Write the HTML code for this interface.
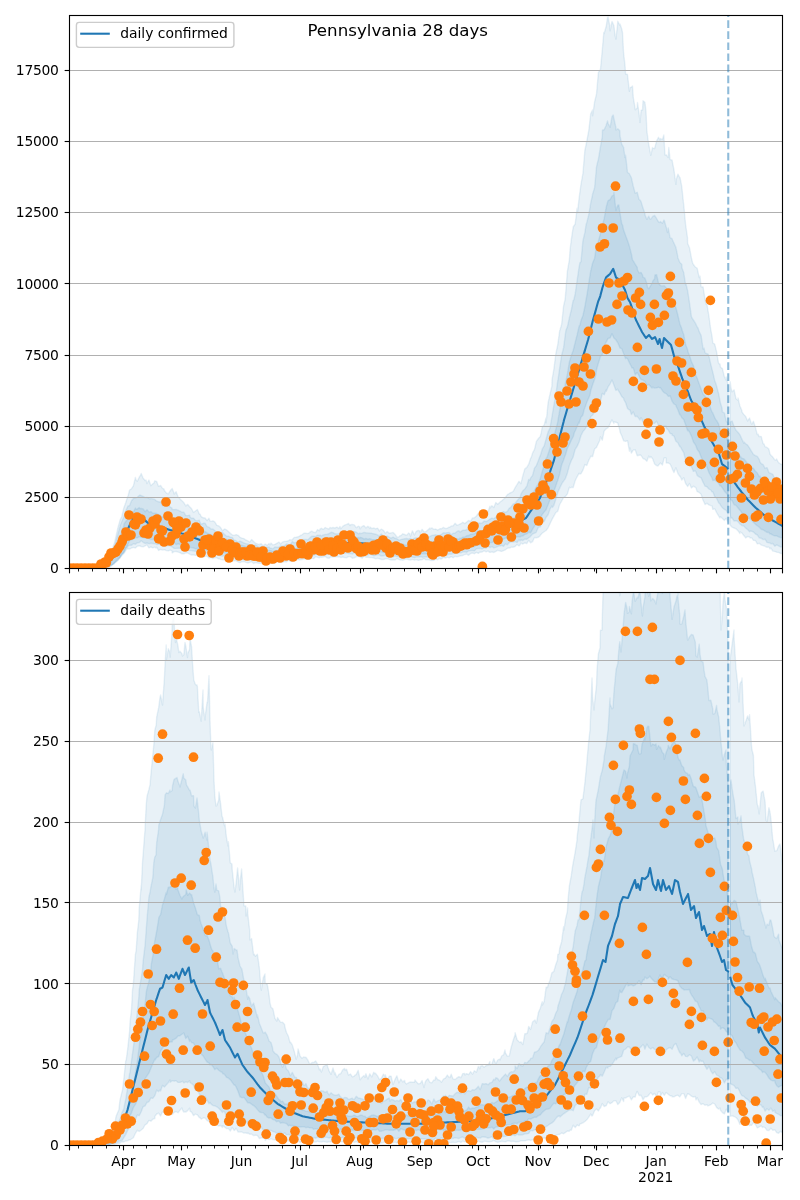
<!DOCTYPE html>
<html><head><meta charset="utf-8"><title>Pennsylvania 28 days</title>
<style>
html,body{margin:0;padding:0;background:#fff;}
svg{display:block;}
text{font-family:"DejaVu Sans","Liberation Sans",sans-serif;fill:#000;}
</style></head><body>
<svg width="800" height="1200" viewBox="0 0 800 1200">
<rect width="800" height="1200" fill="#fff"/>
<defs>
<clipPath id="ct"><rect x="69.5" y="15.5" width="713" height="553"/></clipPath>
<clipPath id="cb"><rect x="69.5" y="592.5" width="713" height="553"/></clipPath>
</defs>

<g clip-path="url(#ct)">
<polygon points="100.0,568.5 100.5,568.3 102.4,567.1 104.4,565.9 106.3,565.2 108.0,564.0 108.2,563.2 110.2,557.9 112.1,549.4 114.0,544.0 114.1,544.4 116.0,536.2 117.9,527.6 119.9,520.8 120.0,520.0 121.8,516.7 123.8,507.9 125.7,502.7 127.6,496.7 128.0,496.0 129.6,490.0 131.5,488.7 133.4,485.8 135.4,477.4 136.0,480.0 137.3,481.3 139.2,477.2 140.6,475.0 141.2,473.5 143.1,478.1 145.1,480.5 146.0,480.0 147.0,483.5 148.9,480.1 150.9,485.7 152.8,483.8 154.0,483.0 154.8,480.8 156.7,481.4 158.6,486.4 160.6,485.4 162.5,488.4 164.0,489.0 164.4,490.5 166.4,493.0 168.3,493.9 170.2,490.8 172.2,488.4 174.0,493.0 174.1,494.0 176.1,491.8 178.0,496.6 179.9,498.8 180.0,499.0 181.9,500.7 183.8,502.6 185.8,505.9 187.7,504.4 189.6,506.8 190.0,507.0 191.6,508.7 193.5,512.4 195.4,511.0 197.4,509.6 199.3,514.1 200.0,514.0 201.2,516.6 203.2,517.8 205.1,518.0 207.1,520.6 209.0,518.2 210.0,521.0 210.9,521.4 212.9,520.8 214.8,521.9 216.8,525.3 218.7,525.8 220.0,527.0 220.6,527.6 222.6,530.8 224.5,528.9 226.4,529.8 228.4,531.5 230.0,533.0 230.3,533.4 232.2,534.8 234.2,535.4 236.1,534.6 238.1,535.3 240.0,537.3 241.9,538.1 243.9,538.6 245.8,540.0 247.8,540.8 249.7,542.1 250.0,541.5 251.6,539.6 253.6,541.5 255.5,543.2 257.4,543.8 259.4,544.7 260.0,544.0 261.3,543.7 263.2,545.7 265.2,544.0 267.1,545.3 269.1,543.5 270.0,545.0 271.0,543.1 272.9,544.9 274.9,544.3 276.8,543.3 278.8,542.2 280.0,543.0 280.7,544.0 282.6,541.9 284.6,541.4 286.5,541.2 288.4,540.8 290.0,539.6 290.4,539.9 292.3,539.7 294.2,537.4 296.2,537.2 298.1,536.8 300.0,536.0 300.1,535.4 302.0,534.8 303.9,533.3 305.9,533.3 307.8,533.6 309.8,532.5 310.0,532.0 311.7,531.2 313.6,532.2 315.6,532.6 317.5,529.6 319.4,530.8 320.0,529.0 321.4,528.3 323.3,529.4 325.2,527.5 327.2,528.5 329.1,529.0 330.0,527.4 331.1,528.0 333.0,527.5 334.9,528.0 336.9,527.1 338.8,528.5 340.0,526.4 340.8,528.7 342.7,526.4 344.6,525.1 346.6,524.4 348.5,523.5 350.0,525.6 350.4,524.7 352.4,524.4 354.3,524.9 356.2,527.7 358.2,526.2 360.0,527.0 360.1,528.9 362.1,526.4 364.0,525.6 365.9,527.9 367.9,526.2 369.8,528.4 370.0,527.0 371.8,528.6 373.7,527.9 375.6,528.8 377.6,528.1 379.5,531.0 380.0,530.0 381.4,529.2 383.4,530.3 385.3,533.2 387.2,531.4 389.2,533.3 390.0,533.0 391.1,532.9 393.1,532.4 395.0,534.2 396.9,537.0 398.9,536.9 400.0,535.6 400.8,535.8 402.8,533.8 404.7,534.5 406.6,535.4 408.6,533.0 410.0,534.0 410.5,536.3 412.4,530.8 414.4,535.0 416.3,531.3 418.2,530.4 420.0,531.0 420.2,533.0 422.1,529.3 424.1,532.0 426.0,531.5 427.9,529.9 429.9,528.0 430.0,529.0 431.8,527.9 433.8,529.4 435.7,529.0 437.6,530.1 439.6,529.0 440.0,528.6 441.5,528.7 443.4,527.4 445.4,528.5 447.3,528.2 449.2,527.1 450.0,527.0 451.2,525.9 453.1,525.8 455.1,523.2 457.0,525.2 458.9,524.6 460.0,524.0 460.9,523.7 462.8,522.2 464.8,523.6 466.7,522.1 468.6,520.4 470.0,521.0 470.6,521.3 472.5,517.9 474.4,517.8 476.4,516.0 478.3,513.5 480.0,514.0 480.2,514.4 482.2,513.5 484.1,511.1 486.1,510.6 488.0,512.1 489.9,506.1 490.0,508.0 491.9,505.7 493.8,507.6 495.8,502.5 497.7,504.3 499.6,502.4 500.0,502.0 501.6,500.9 503.5,499.2 505.4,497.4 507.4,494.6 509.3,493.5 510.0,493.0 511.2,492.5 513.2,491.4 515.1,487.7 517.1,484.4 519.0,481.3 520.0,482.5 520.9,483.7 522.9,475.4 524.8,468.9 526.8,467.4 528.7,464.2 530.6,458.3 531.2,457.5 532.6,452.9 534.5,449.4 536.4,441.4 538.4,438.5 540.3,436.5 541.2,432.5 542.2,427.2 544.2,424.9 546.0,418.0 546.1,422.7 548.1,402.6 550.0,394.2 551.9,386.2 552.0,380.0 553.9,368.9 555.8,354.0 557.8,344.3 559.7,330.5 560.0,330.0 561.6,324.5 563.6,305.8 565.0,300.0 565.5,295.1 567.4,271.2 569.4,259.6 570.0,250.0 571.3,239.7 573.2,227.0 575.2,224.0 577.1,208.1 577.5,212.5 579.1,198.2 581.0,184.0 582.9,173.5 584.9,149.9 585.0,150.0 586.8,141.0 588.8,130.3 590.7,113.8 592.5,110.0 592.6,115.8 594.6,101.8 596.5,93.9 598.4,72.4 600.0,70.0 600.4,70.1 602.3,49.7 603.8,32.5 604.2,33.3 606.2,26.3 607.5,17.5 608.1,16.9 610.0,27.0 610.1,30.9 612.0,21.4 613.9,25.5 615.0,35.0 615.9,39.1 617.5,25.0 617.8,21.3 619.8,25.2 620.0,24.0 621.7,28.7 622.5,32.5 623.6,53.2 625.0,65.0 625.6,74.0 627.5,74.5 629.4,91.3 630.0,87.5 631.4,87.3 632.5,86.0 633.3,97.6 635.0,107.5 635.2,109.8 637.2,108.0 637.5,102.5 639.1,113.7 640.0,122.5 641.1,110.1 642.5,110.0 643.0,100.7 644.9,102.2 646.0,111.0 646.9,131.2 648.8,145.0 648.8,144.7 650.8,155.4 652.5,147.5 652.7,148.1 654.6,148.6 656.6,140.9 658.5,137.3 660.0,140.0 660.4,138.5 662.4,139.5 663.8,135.0 664.3,143.6 665.0,155.0 666.2,154.8 668.2,157.6 668.8,147.5 670.1,159.5 672.1,160.2 672.5,162.5 674.0,170.1 675.9,184.4 676.0,180.0 677.9,174.2 679.8,177.7 680.0,177.5 681.8,186.7 683.7,204.7 683.8,205.0 685.6,224.7 687.5,237.5 687.6,243.3 689.5,247.7 691.4,257.8 692.5,262.5 693.4,264.5 695.3,267.0 697.2,268.3 699.2,277.6 700.0,276.0 701.1,286.7 703.1,287.0 705.0,299.2 706.0,304.0 706.9,304.0 708.9,316.0 710.8,329.8 712.0,336.0 712.8,343.0 714.7,344.1 716.6,351.8 718.6,363.6 720.0,364.0 720.5,367.3 722.4,368.6 724.4,376.8 726.0,380.0 726.3,376.9 728.2,385.9 728.2,522.9 727.0,520.0 726.3,518.2 724.4,520.4 722.4,518.6 720.5,516.8 720.0,518.0 718.6,515.9 716.6,512.6 714.7,508.8 712.8,509.4 712.0,506.0 710.8,505.6 708.9,504.9 706.9,503.2 705.0,504.6 704.0,502.0 703.1,500.4 701.1,494.2 699.2,492.4 697.2,491.7 696.0,488.0 695.3,487.3 693.4,486.2 691.4,487.9 689.5,483.5 688.0,486.0 687.6,486.4 685.6,483.5 683.7,477.8 681.8,480.1 680.0,476.0 679.8,476.3 677.9,473.6 675.9,467.8 674.0,472.6 672.1,468.8 672.0,468.0 670.1,464.0 668.2,462.9 666.2,463.0 666.0,458.0 664.3,457.8 662.4,465.0 660.4,463.0 658.5,465.2 658.0,466.0 656.6,465.6 654.6,464.0 652.7,458.9 650.8,456.5 650.0,458.0 648.8,456.0 646.9,461.3 644.9,459.3 643.0,458.5 641.1,455.5 640.0,455.0 639.1,455.3 637.2,455.7 635.2,449.8 633.3,450.1 631.4,453.2 630.0,448.0 629.4,451.2 627.5,440.7 625.6,441.4 623.6,440.8 621.7,435.8 620.0,432.0 619.8,430.1 617.8,423.2 615.9,422.2 614.0,422.0 613.9,423.5 612.0,419.9 610.1,423.5 610.0,424.0 608.1,427.7 606.2,428.8 604.2,430.9 602.3,440.2 600.4,436.8 600.0,440.0 598.4,443.3 596.5,447.4 594.6,449.0 592.6,456.6 590.7,456.2 590.0,458.0 588.8,460.2 586.8,465.5 584.9,464.5 582.9,470.2 581.0,473.7 580.0,474.0 579.1,473.2 577.1,476.8 575.2,480.8 573.2,487.5 571.3,487.3 570.0,488.0 569.4,487.2 567.4,493.9 565.5,496.4 563.6,497.5 561.6,501.3 560.0,504.0 559.7,504.5 557.8,511.2 555.8,512.6 553.9,516.1 551.9,519.7 550.0,523.7 548.1,527.8 546.1,530.5 544.2,531.8 542.2,533.2 540.3,535.2 540.0,536.0 538.4,537.3 536.4,537.7 534.5,537.5 532.6,541.6 530.6,542.8 530.0,542.0 528.7,540.4 526.8,543.6 524.8,542.9 522.9,544.0 520.9,543.1 520.0,545.0 519.0,545.9 517.1,544.6 515.1,546.5 513.2,547.2 511.2,547.1 510.0,548.0 509.3,547.9 507.4,548.3 505.4,549.8 503.5,550.7 501.6,551.4 500.0,551.0 499.6,550.8 497.7,550.3 495.8,551.4 493.8,552.5 491.9,551.9 489.9,552.4 488.0,551.1 486.1,551.8 484.1,550.8 482.2,552.0 480.2,552.2 480.0,552.0 478.3,553.4 476.4,552.4 474.4,553.7 472.5,553.0 470.6,553.5 468.6,555.3 466.7,554.1 464.8,554.5 462.8,555.5 460.9,555.7 460.0,556.0 458.9,556.3 457.0,556.8 455.1,556.3 453.1,557.7 451.2,556.7 449.2,557.8 447.3,557.2 445.4,558.0 443.4,557.4 441.5,559.0 440.0,559.0 439.6,558.3 437.6,559.8 435.7,558.9 433.8,560.4 431.8,560.5 429.9,560.2 427.9,559.6 426.0,559.9 424.1,558.7 422.1,559.7 420.2,559.7 420.0,560.0 418.2,560.4 416.3,559.6 414.4,560.2 412.4,559.4 410.5,560.0 408.6,559.7 406.6,559.0 404.7,559.3 402.8,560.3 400.8,559.8 400.0,560.0 398.9,559.4 396.9,558.7 395.0,560.0 393.1,559.7 391.1,560.0 389.2,559.4 387.2,558.6 385.3,558.9 383.4,559.5 381.4,559.5 380.0,559.0 379.5,558.9 377.6,558.3 375.6,558.8 373.7,558.0 371.8,557.6 369.8,557.6 367.9,557.2 365.9,557.3 364.0,555.9 362.1,558.2 360.1,557.1 360.0,557.0 358.2,556.3 356.2,556.8 354.3,557.8 352.4,558.3 350.4,556.6 348.5,556.6 346.6,557.8 344.6,557.6 342.7,557.0 340.8,557.6 340.0,557.0 338.8,557.1 336.9,556.7 334.9,556.9 333.0,557.1 331.1,556.8 329.1,558.3 327.2,558.0 325.2,556.4 323.3,557.1 321.4,557.3 320.0,557.0 319.4,557.8 317.5,557.3 315.6,556.8 313.6,558.7 311.7,558.1 309.8,559.3 307.8,559.4 305.9,559.0 303.9,559.1 302.0,559.6 300.1,559.8 300.0,560.0 298.1,559.4 296.2,559.6 294.2,560.4 292.3,561.2 290.4,561.4 288.4,560.2 286.5,562.0 284.6,561.7 282.6,562.3 280.7,562.6 280.0,562.0 278.8,562.2 276.8,561.4 274.9,563.2 272.9,563.0 271.0,563.3 269.1,563.0 267.1,562.6 265.2,562.1 263.2,562.7 261.3,563.5 260.0,563.0 259.4,563.4 257.4,563.0 255.5,562.5 253.6,563.6 251.6,561.8 249.7,562.4 247.8,563.0 245.8,562.4 243.9,561.6 241.9,561.7 240.0,562.7 238.1,562.0 236.1,560.9 234.2,560.7 232.2,561.2 230.3,560.5 228.4,560.4 226.4,560.0 224.5,560.0 222.6,559.8 220.6,559.4 220.0,559.0 218.7,558.9 216.8,557.9 214.8,557.5 212.9,558.6 210.9,557.4 209.0,558.1 207.1,556.3 205.1,556.2 203.2,557.3 201.2,556.1 200.0,556.0 199.3,555.8 197.4,555.1 195.4,555.4 193.5,554.8 191.6,555.1 189.6,554.1 187.7,553.0 185.8,552.9 183.8,553.8 181.9,553.8 179.9,552.7 178.0,552.1 176.1,551.5 174.1,551.6 172.2,552.9 172.0,551.0 170.2,550.1 168.3,550.9 166.4,550.6 164.4,549.7 162.5,550.1 160.6,549.4 158.6,550.5 156.7,547.2 156.0,548.0 154.8,547.1 152.8,547.9 150.9,546.9 148.9,547.9 147.0,544.8 145.1,545.9 143.1,546.8 141.2,546.5 140.0,546.0 139.2,545.9 137.3,546.2 135.4,548.1 133.4,547.4 131.5,548.0 129.6,549.1 127.6,548.7 126.0,550.0 125.7,550.7 123.8,553.5 121.8,555.6 120.0,558.0 119.9,558.3 117.9,560.3 116.0,561.6 114.1,562.6 112.1,564.9 110.2,566.1 110.0,566.0 108.2,566.3 106.3,567.1 104.4,567.5 102.4,567.8 100.5,568.4 100.0,568.5" fill="#1f77b4" fill-opacity="0.1" stroke="#1f77b4" stroke-opacity="0.1" stroke-width="1.39" stroke-linejoin="round"/>
<polygon points="104.0,568.5 104.4,567.9 106.3,565.2 108.2,562.0 110.2,558.6 112.0,556.0 112.1,555.0 114.1,548.1 116.0,541.3 117.9,534.0 119.9,526.9 120.0,526.0 121.8,521.5 123.8,517.0 125.7,510.9 127.6,506.8 128.0,506.0 129.6,505.6 131.5,500.8 133.4,498.5 134.0,498.0 135.4,497.8 137.3,497.3 139.2,495.6 140.0,495.0 141.2,495.6 143.1,496.4 145.1,497.6 147.0,497.4 148.9,498.3 150.0,499.0 150.9,498.4 152.8,498.9 154.8,499.5 156.7,501.2 158.6,501.8 160.0,502.0 160.6,501.4 162.5,505.7 164.4,504.7 166.4,505.6 168.3,505.2 170.2,507.1 172.0,508.0 172.2,509.6 174.1,509.6 176.1,509.4 178.0,510.2 179.9,511.2 180.0,511.0 181.9,512.3 183.8,512.2 185.8,515.6 187.7,515.6 189.6,515.1 190.0,517.0 191.6,518.2 193.5,518.1 195.4,520.5 197.4,520.7 199.3,520.2 200.0,522.0 201.2,524.4 203.2,523.3 205.1,523.3 207.1,526.7 209.0,527.2 210.0,528.0 210.9,528.9 212.9,529.0 214.8,530.5 216.8,533.0 218.7,532.1 220.0,533.0 220.6,532.5 222.6,532.4 224.5,534.4 226.4,536.0 228.4,536.2 230.3,537.2 232.2,537.4 234.2,540.1 236.1,540.7 238.1,542.2 240.0,541.1 241.9,542.0 243.9,543.0 245.8,543.6 247.8,544.0 249.7,544.8 251.6,544.9 253.6,545.6 255.5,544.8 257.4,546.1 259.4,547.4 260.0,547.0 261.3,546.4 263.2,547.0 265.2,547.3 267.1,547.3 269.1,546.9 270.0,548.0 271.0,548.3 272.9,548.7 274.9,546.9 276.8,547.2 278.8,547.1 280.0,546.5 280.7,545.9 282.6,545.9 284.6,545.6 286.5,543.9 288.4,544.9 290.4,544.5 292.3,541.6 294.2,542.8 296.2,542.4 298.1,542.0 300.0,541.0 300.1,540.4 302.0,539.8 303.9,539.4 305.9,539.4 307.8,539.8 309.8,537.9 311.7,536.3 313.6,536.1 315.6,536.5 317.5,535.1 319.4,535.5 320.0,535.0 321.4,535.9 323.3,534.9 325.2,534.4 327.2,534.4 329.1,533.5 331.1,532.3 333.0,532.6 334.9,533.8 336.9,533.9 338.8,533.7 340.0,533.0 340.8,533.0 342.7,532.6 344.6,532.8 346.6,532.8 348.5,532.9 350.4,533.1 352.4,533.6 354.3,531.6 356.2,532.1 358.2,533.8 360.0,533.0 360.1,533.5 362.1,533.2 364.0,532.4 365.9,532.8 367.9,532.9 369.8,533.1 371.8,533.3 373.7,533.8 375.6,534.2 377.6,534.9 379.5,536.4 380.0,535.0 381.4,533.9 383.4,536.3 385.3,536.8 387.2,536.0 389.2,537.2 391.1,538.2 393.1,537.1 395.0,538.3 396.9,538.7 398.9,540.1 400.0,540.0 400.8,539.6 402.8,539.1 404.7,538.7 406.6,538.5 408.6,539.0 410.5,538.4 412.4,539.6 414.4,538.1 416.3,537.8 418.2,538.5 420.0,538.0 420.2,538.0 422.1,538.6 424.1,537.1 426.0,536.9 427.9,537.6 429.9,536.5 431.8,535.4 433.8,535.1 435.7,534.8 437.6,535.5 439.6,535.3 440.0,535.0 441.5,534.3 443.4,532.7 445.4,533.0 447.3,532.6 449.2,532.5 451.2,534.7 453.1,533.2 455.1,533.1 457.0,531.4 458.9,530.7 460.0,532.0 460.9,531.6 462.8,530.3 464.8,530.3 466.7,529.5 468.6,528.7 470.6,526.5 472.5,527.2 474.4,524.5 476.4,524.5 478.3,523.1 480.0,523.0 480.2,523.5 482.2,522.9 484.1,520.9 486.1,521.6 488.0,520.5 489.9,519.1 491.9,518.1 493.8,518.7 495.8,517.1 497.7,515.3 499.6,513.8 500.0,515.0 501.6,512.6 503.5,511.6 505.4,512.3 507.4,511.4 509.3,508.0 510.0,508.0 511.2,506.6 513.2,503.9 515.1,503.3 517.1,500.8 519.0,498.4 520.0,498.0 520.9,494.2 522.9,490.8 524.8,489.0 526.8,486.1 528.7,479.5 530.0,480.0 530.6,477.9 532.6,475.3 534.5,468.1 536.4,465.6 538.4,460.6 540.0,456.0 540.3,455.8 542.2,449.2 544.2,445.8 546.1,439.1 548.1,431.9 550.0,428.1 551.9,417.0 553.9,405.2 555.8,395.2 557.8,380.3 558.0,380.0 559.7,367.9 561.6,355.5 563.6,347.7 565.5,333.0 566.0,330.0 567.4,326.9 569.4,317.7 571.3,310.0 573.2,300.3 573.8,300.0 575.2,293.9 577.1,280.7 579.1,266.9 580.0,262.5 581.0,261.7 582.9,240.9 584.9,232.4 586.0,225.0 586.8,222.4 588.8,214.5 590.7,203.2 592.5,195.0 592.6,194.1 594.6,187.7 596.5,167.1 597.5,162.5 598.4,159.2 600.4,147.1 602.3,136.6 602.5,130.0 604.2,129.8 606.2,125.2 607.5,121.0 608.1,123.5 610.0,127.0 610.1,127.3 612.0,116.7 613.2,115.0 613.9,118.4 615.9,127.5 616.0,130.0 617.8,128.7 619.8,130.7 620.0,136.0 621.7,144.1 623.6,147.4 625.0,157.5 625.6,155.1 627.5,172.4 629.4,173.7 630.0,175.0 631.4,177.8 633.3,186.4 635.0,192.5 635.2,193.2 637.2,192.3 639.1,199.5 640.0,200.0 641.1,201.7 643.0,208.1 644.9,213.6 645.0,215.0 646.9,219.4 648.8,216.2 650.0,219.0 650.8,219.2 652.7,216.4 654.6,215.5 656.0,217.5 656.6,218.6 658.5,221.8 660.0,222.5 660.4,221.4 662.4,223.2 664.0,220.0 664.3,220.5 666.2,227.1 667.5,232.5 668.2,227.9 670.1,237.7 672.1,238.7 672.5,240.0 674.0,243.3 675.9,247.4 677.5,255.0 677.9,257.7 679.8,262.4 681.8,264.2 682.0,268.0 683.7,272.5 685.6,284.8 686.0,284.0 687.6,290.5 689.5,302.8 691.4,316.6 692.0,318.0 693.4,320.0 695.3,322.9 697.2,327.0 698.0,328.0 699.2,331.6 701.1,335.4 703.1,349.1 704.0,348.0 705.0,352.7 706.9,353.8 708.0,354.0 708.9,356.2 710.8,364.3 712.8,372.3 714.7,380.4 716.0,384.0 716.6,386.1 718.6,393.6 720.5,403.3 722.0,408.0 722.4,411.9 724.4,413.0 726.0,420.0 726.3,421.2 728.2,423.2 728.2,513.7 727.0,512.0 726.3,510.5 724.4,509.4 722.4,507.8 720.5,505.2 720.0,504.0 718.6,502.7 716.6,498.2 714.7,496.5 712.8,491.8 712.0,492.0 710.8,490.0 708.9,489.0 706.9,486.7 705.0,486.2 704.0,484.0 703.1,482.4 701.1,477.8 699.2,476.9 697.2,475.6 696.0,472.0 695.3,470.8 693.4,471.4 691.4,466.7 689.5,465.4 688.0,462.0 687.6,461.4 685.6,460.3 683.7,452.6 681.8,449.4 680.0,446.0 679.8,446.7 677.9,442.7 675.9,441.3 674.0,436.1 672.1,435.1 672.0,434.0 670.1,433.4 668.2,430.0 666.2,428.0 666.0,426.0 664.3,425.6 662.4,427.9 660.4,426.0 660.0,425.0 658.5,425.2 656.6,421.2 654.6,423.4 652.7,423.1 650.8,425.7 650.0,424.0 648.8,422.1 646.9,422.3 644.9,423.1 643.0,422.2 641.1,417.6 640.0,420.0 639.1,418.8 637.2,416.3 635.2,416.6 633.3,412.0 631.4,414.5 630.0,410.0 629.4,410.1 627.5,408.4 625.6,402.7 624.0,400.0 623.6,398.3 621.7,396.4 619.8,392.9 618.0,390.0 617.8,389.1 615.9,390.4 613.9,385.0 612.0,380.0 610.1,383.8 608.1,386.8 606.2,391.4 606.0,390.0 604.2,394.7 602.3,393.4 600.4,401.6 600.0,402.0 598.4,403.4 596.5,408.0 596.0,412.0 594.6,412.0 592.6,415.0 590.7,416.8 590.0,420.0 588.8,421.9 586.8,426.0 584.9,429.4 582.9,431.6 582.5,432.5 581.0,435.5 579.1,442.0 577.1,446.4 575.2,449.3 573.2,456.7 573.0,457.5 571.3,460.4 569.4,465.5 567.4,472.9 565.5,478.3 563.6,481.1 562.5,482.5 561.6,484.3 559.7,488.1 557.8,492.3 555.8,499.4 553.9,505.3 552.5,507.5 551.9,506.0 550.0,509.1 548.1,514.7 546.1,517.2 544.2,521.5 544.0,521.0 542.2,522.4 540.3,526.8 538.4,527.3 536.4,531.8 536.0,532.5 534.5,533.2 532.6,534.0 530.6,536.3 530.0,537.0 528.7,537.7 526.8,539.2 524.8,539.1 522.9,540.5 520.9,539.9 520.0,541.0 519.0,539.6 517.1,542.6 515.1,541.5 513.2,542.1 511.2,541.9 509.3,542.5 507.4,544.8 505.4,543.9 503.5,546.4 501.6,545.4 500.0,546.0 499.6,545.6 497.7,546.6 495.8,547.3 493.8,547.8 491.9,546.6 489.9,547.6 488.0,546.1 486.1,548.3 484.1,547.9 482.2,549.0 480.2,548.3 480.0,548.5 478.3,548.4 476.4,548.7 474.4,550.9 472.5,550.4 470.6,550.6 468.6,551.0 466.7,552.2 464.8,551.9 462.8,552.0 460.9,553.0 460.0,552.5 458.9,552.8 457.0,553.3 455.1,553.2 453.1,553.6 451.2,554.3 449.2,554.0 447.3,554.9 445.4,554.9 443.4,554.7 441.5,554.9 440.0,555.5 439.6,554.9 437.6,556.3 435.7,556.6 433.8,555.9 431.8,555.9 429.9,556.3 427.9,557.0 426.0,556.7 424.1,557.1 422.1,557.2 420.2,556.5 420.0,557.0 418.2,557.0 416.3,557.1 414.4,557.7 412.4,557.2 410.5,556.5 408.6,557.5 406.6,557.2 404.7,557.0 402.8,556.3 400.8,556.5 400.0,557.0 398.9,556.7 396.9,556.5 395.0,556.0 393.1,557.0 391.1,556.8 389.2,556.4 387.2,556.4 385.3,555.1 383.4,555.8 381.4,556.0 380.0,555.5 379.5,554.7 377.6,554.6 375.6,555.4 373.7,555.7 371.8,554.9 369.8,553.7 367.9,555.2 365.9,554.2 364.0,554.8 362.1,553.3 360.1,553.3 360.0,553.5 358.2,553.4 356.2,554.3 354.3,552.7 352.4,554.1 350.4,553.6 348.5,553.6 346.6,552.9 344.6,553.3 342.7,553.2 340.8,553.7 340.0,553.5 338.8,553.2 336.9,553.6 334.9,553.7 333.0,554.0 331.1,554.3 329.1,554.0 327.2,553.8 325.2,554.8 323.3,554.5 321.4,553.3 320.0,554.5 319.4,555.1 317.5,554.3 315.6,554.4 313.6,555.6 311.7,555.2 309.8,557.1 307.8,557.3 305.9,557.1 303.9,558.1 302.0,557.2 300.1,558.1 300.0,558.0 298.1,558.8 296.2,559.2 294.2,558.4 292.3,558.6 290.4,558.5 288.4,558.6 286.5,559.2 284.6,559.1 282.6,560.3 280.7,559.6 280.0,560.0 278.8,560.2 276.8,560.8 274.9,559.9 272.9,560.3 271.0,560.9 269.1,560.0 267.1,560.5 265.2,561.0 263.2,560.1 261.3,560.3 260.0,560.5 259.4,560.2 257.4,560.2 255.5,559.5 253.6,559.7 251.6,560.0 249.7,560.0 247.8,559.7 245.8,559.1 243.9,560.0 241.9,558.8 240.0,558.8 238.1,558.7 236.1,558.5 234.2,557.6 232.2,556.8 230.3,557.5 228.4,557.2 226.4,556.8 224.5,555.5 222.6,556.3 220.6,555.7 220.0,555.5 218.7,555.2 216.8,554.4 214.8,554.2 212.9,553.6 210.9,554.8 209.0,553.7 207.1,552.6 205.1,553.2 203.2,553.3 201.2,552.1 200.0,552.5 199.3,551.9 197.4,551.6 195.4,551.2 193.5,551.1 191.6,550.6 189.6,550.6 187.7,549.8 185.8,550.5 183.8,549.5 181.9,548.3 179.9,548.2 178.0,548.2 176.1,548.4 174.1,548.4 172.2,547.0 172.0,547.0 170.2,546.0 168.3,545.5 166.4,545.9 164.4,545.6 162.5,545.6 160.6,544.1 158.6,544.2 156.7,544.5 156.0,544.0 154.8,543.8 152.8,543.5 150.9,543.3 148.9,543.7 147.0,543.0 145.1,543.4 143.1,542.3 141.2,540.8 140.0,542.0 139.2,542.6 137.3,542.8 135.4,544.3 133.4,543.7 131.5,545.3 129.6,545.3 128.0,546.0 127.6,547.3 125.7,548.6 123.8,552.6 122.0,554.0 121.8,553.6 119.9,557.7 117.9,558.7 116.0,560.7 114.1,563.8 114.0,564.0 112.1,564.7 110.2,565.2 108.2,566.9 106.3,567.2 104.4,568.4 104.0,568.5" fill="#1f77b4" fill-opacity="0.1" stroke="#1f77b4" stroke-opacity="0.1" stroke-width="1.39" stroke-linejoin="round"/>
<polygon points="108.0,568.5 108.2,568.0 110.2,563.9 112.1,559.7 114.1,556.1 116.0,552.0 117.9,545.5 119.9,538.3 121.8,531.1 123.8,526.2 124.0,524.0 125.7,521.5 127.6,519.4 129.6,514.5 130.0,514.0 131.5,512.5 133.4,512.1 135.4,508.0 136.0,509.0 137.3,509.1 139.2,507.6 140.0,508.6 141.2,508.4 143.1,508.9 145.1,511.7 147.0,509.8 148.9,511.9 150.0,512.0 150.9,511.6 152.8,513.3 154.8,513.2 156.7,513.5 158.6,514.6 160.0,515.0 160.6,516.3 162.5,516.8 164.4,517.6 166.4,517.4 168.3,517.1 170.2,519.1 172.0,520.0 172.2,520.1 174.1,520.3 176.1,521.3 178.0,523.2 179.9,522.7 181.9,524.1 183.8,524.4 184.0,525.0 185.8,526.6 187.7,526.0 189.6,528.2 191.6,527.6 193.5,528.4 195.4,529.2 197.4,529.8 199.3,530.6 200.0,531.0 201.2,531.7 203.2,532.1 205.1,531.6 207.1,532.9 209.0,533.8 210.9,534.6 212.9,535.9 214.8,536.1 216.8,537.0 218.7,537.1 220.0,538.0 220.6,539.3 222.6,539.2 224.5,539.2 226.4,539.2 228.4,540.4 230.3,542.1 232.2,542.4 234.2,543.4 236.1,543.7 238.1,544.7 240.0,545.7 241.9,545.3 243.9,545.9 245.8,546.5 247.8,546.8 249.7,546.6 251.6,547.9 253.6,548.5 255.5,548.5 257.4,550.0 259.4,549.6 260.0,550.0 261.3,550.4 263.2,550.2 265.2,549.7 267.1,550.8 269.1,550.2 271.0,550.6 272.9,551.4 274.9,550.6 275.0,551.0 276.8,551.4 278.8,550.9 280.7,550.7 282.6,550.0 284.6,550.3 286.5,549.3 288.4,549.6 290.0,549.5 290.4,549.7 292.3,548.7 294.2,549.0 296.2,548.5 298.1,547.4 300.1,546.2 302.0,545.8 303.9,545.3 305.0,545.0 305.9,545.7 307.8,544.4 309.8,544.5 311.7,542.8 313.6,542.7 315.6,542.2 317.5,541.5 319.4,541.0 320.0,541.0 321.4,540.6 323.3,540.8 325.2,540.9 327.2,539.8 329.1,538.9 331.1,538.8 333.0,539.2 334.9,538.5 336.9,538.7 338.8,538.0 340.0,538.0 340.8,537.9 342.7,537.0 344.6,537.6 346.6,537.3 348.5,538.4 350.4,538.3 352.4,538.0 354.3,537.7 356.2,538.1 358.2,537.5 360.0,538.0 360.1,537.3 362.1,537.8 364.0,539.1 365.9,538.5 367.9,539.1 369.8,538.7 371.8,539.7 373.7,539.6 375.6,539.7 377.6,541.2 379.5,541.3 380.0,540.5 381.4,540.9 383.4,540.8 385.3,541.6 387.2,542.7 389.2,542.4 391.1,543.3 393.1,543.5 395.0,544.1 396.9,544.2 398.9,545.4 400.0,545.0 400.8,545.9 402.8,543.9 404.7,545.1 406.6,544.9 408.6,544.9 410.5,544.5 412.4,544.3 414.4,543.6 416.3,543.7 418.2,543.5 420.0,543.5 420.2,543.5 422.1,542.7 424.1,543.0 426.0,542.6 427.9,543.4 429.9,542.0 431.8,541.9 433.8,541.2 435.7,542.6 437.6,541.3 439.6,541.1 440.0,541.0 441.5,541.1 443.4,540.4 445.4,539.9 447.3,539.9 449.2,539.8 451.2,539.4 453.1,539.2 455.1,538.7 457.0,538.8 458.9,539.2 460.0,538.0 460.9,538.6 462.8,537.1 464.8,537.0 466.7,535.8 468.6,535.5 470.6,534.3 472.5,534.1 474.4,533.7 476.4,532.1 478.3,530.9 480.0,531.0 480.2,530.9 482.2,530.9 484.1,529.8 486.1,528.9 488.0,529.0 489.9,527.5 491.9,527.5 493.8,526.7 495.8,526.6 497.7,526.0 499.6,525.0 500.0,525.0 501.6,524.0 503.5,523.9 505.4,522.8 507.4,521.4 509.3,521.5 510.0,520.0 511.2,519.1 513.2,518.1 515.1,517.4 517.1,515.3 519.0,514.8 520.0,514.0 520.9,512.8 522.9,511.9 524.8,508.3 526.0,507.5 526.8,506.4 528.7,502.4 530.6,498.6 532.6,494.5 534.5,490.3 536.4,486.7 538.4,483.9 538.8,482.5 540.3,478.5 542.2,471.5 544.2,465.1 546.1,458.3 546.9,457.5 548.1,453.9 550.0,448.2 551.9,442.4 553.9,435.9 555.0,432.5 555.8,429.5 557.8,421.8 558.0,420.0 559.7,410.4 561.6,400.1 562.0,400.0 563.6,393.5 565.5,382.9 567.4,373.9 569.4,361.8 570.0,360.0 571.3,355.4 573.2,350.5 575.2,342.4 577.1,334.9 579.1,326.2 580.0,325.0 581.0,320.4 582.9,315.8 584.9,306.5 586.0,300.0 586.8,296.0 588.8,282.9 590.7,271.0 591.0,270.0 592.6,263.0 594.6,258.2 596.5,246.0 597.5,245.0 598.4,241.1 600.4,233.9 602.3,225.9 602.5,225.0 604.2,218.4 606.2,207.2 607.5,202.5 608.1,200.6 610.1,199.6 612.0,196.0 613.8,195.0 613.9,192.4 615.9,210.5 616.0,210.0 617.8,205.2 618.8,205.0 619.8,211.8 621.7,223.6 622.5,225.0 623.6,230.1 625.6,235.6 627.5,240.4 629.4,246.2 631.4,253.9 632.5,260.0 633.3,260.9 635.2,264.2 637.2,267.3 637.5,270.0 639.1,272.9 641.1,272.5 642.5,275.0 643.0,277.2 644.9,278.2 646.9,283.5 647.5,287.5 648.8,288.7 650.8,285.3 652.5,282.5 652.7,281.2 654.6,278.8 655.0,275.0 656.6,274.7 658.5,283.2 660.0,285.0 660.4,285.6 662.4,285.9 664.3,285.8 666.2,287.9 668.0,290.0 668.2,293.5 670.1,294.1 672.1,298.0 674.0,304.1 675.9,307.6 676.0,308.0 677.9,315.3 679.8,323.7 681.8,328.7 682.0,330.0 683.7,334.4 685.6,344.6 687.6,349.8 688.0,352.0 689.5,355.6 691.4,361.5 693.4,365.8 694.0,368.0 695.3,374.1 697.2,378.2 699.2,384.1 700.0,386.0 701.1,389.2 703.1,394.2 705.0,396.0 706.0,398.0 706.9,400.3 708.9,402.2 710.8,409.1 712.0,412.0 712.8,412.9 714.7,417.6 716.0,420.0 716.6,420.4 718.6,424.1 720.5,431.3 722.0,432.0 722.4,433.1 724.4,436.5 726.3,437.7 727.0,440.0 728.2,441.1 728.2,495.6 727.0,494.0 726.3,493.2 724.4,491.2 722.4,487.9 720.5,485.4 720.0,486.0 718.6,483.3 716.6,481.3 714.7,480.1 712.8,480.5 712.0,478.0 710.8,476.0 708.9,472.5 706.9,466.8 705.0,463.0 704.0,462.0 703.1,461.3 701.1,456.9 699.2,452.0 697.2,449.4 696.0,446.0 695.3,444.6 693.4,441.9 691.4,436.1 689.5,432.0 688.0,430.0 687.6,430.8 685.6,424.7 683.7,419.5 681.8,417.8 680.0,414.0 679.8,414.9 677.9,409.7 676.0,406.0 675.9,405.0 674.0,404.0 672.1,401.3 670.1,395.7 670.0,396.0 668.2,396.2 666.2,393.6 664.3,392.9 662.4,390.7 660.4,387.6 660.0,388.0 658.5,387.2 656.6,387.9 654.6,388.1 652.7,387.1 652.0,388.0 650.8,386.8 648.8,384.4 646.9,385.5 644.9,381.3 643.0,380.1 641.1,379.5 640.0,378.0 639.1,375.9 637.2,372.5 635.2,374.8 633.3,367.9 632.0,368.0 631.4,366.5 629.4,362.8 627.5,358.7 626.0,358.0 625.6,358.7 623.6,353.5 621.7,348.6 620.0,348.0 619.8,347.5 617.8,342.8 616.0,340.0 615.9,339.7 613.9,337.9 612.0,333.7 610.1,337.9 608.1,338.4 606.2,342.3 606.0,342.0 604.2,347.1 602.3,354.6 600.4,356.4 600.0,358.0 598.4,363.0 596.5,369.8 596.0,374.0 594.6,379.3 592.6,384.7 590.7,390.7 590.0,395.0 588.8,397.7 586.8,402.3 584.9,407.8 584.0,410.0 582.9,415.0 581.0,417.2 579.1,423.3 579.0,422.0 577.1,426.4 575.2,431.0 574.4,432.5 573.2,436.7 571.3,440.3 569.4,444.4 567.4,448.3 565.5,454.7 564.4,457.5 563.6,460.0 561.6,465.0 559.7,473.7 557.8,480.4 556.9,482.5 555.8,486.0 553.9,491.1 551.9,495.5 550.0,499.5 548.1,504.8 546.9,507.5 546.1,509.8 544.2,511.9 542.2,514.5 540.3,518.6 540.0,519.0 538.4,521.5 536.4,524.0 534.5,526.1 532.6,529.2 530.6,532.8 530.0,532.5 528.7,532.3 526.8,533.9 524.8,534.4 522.9,535.9 520.9,536.2 520.0,537.0 519.0,536.9 517.1,536.6 515.1,537.0 513.2,536.7 511.2,537.2 510.0,537.0 509.3,537.8 507.4,538.2 505.4,538.0 503.5,539.2 501.6,539.4 500.0,540.0 499.6,541.2 497.7,540.8 495.8,540.4 493.8,541.7 491.9,542.5 489.9,542.6 488.0,542.0 486.1,543.6 484.1,543.7 482.2,544.7 480.2,544.7 480.0,545.0 478.3,545.0 476.4,545.2 474.4,546.8 472.5,546.3 470.6,546.5 468.6,547.2 466.7,547.6 464.8,548.7 462.8,548.6 460.9,548.7 460.0,549.0 458.9,548.8 457.0,550.3 455.1,549.6 453.1,550.0 451.2,550.8 449.2,550.1 447.3,551.2 445.4,551.3 443.4,551.4 441.5,551.8 440.0,552.0 439.6,551.7 437.6,551.9 435.7,552.4 433.8,552.4 431.8,552.8 429.9,553.3 427.9,554.0 426.0,553.7 424.1,553.5 422.1,553.8 420.2,553.2 420.0,554.0 418.2,553.9 416.3,553.6 414.4,553.9 412.4,554.0 410.5,554.0 408.6,554.2 406.6,554.4 404.7,554.0 402.8,554.4 400.8,554.5 400.0,554.5 398.9,554.7 396.9,553.7 395.0,553.8 393.1,553.4 391.1,553.6 389.2,553.6 387.2,553.1 385.3,552.6 383.4,552.5 381.4,552.1 380.0,552.0 379.5,551.9 377.6,550.9 375.6,551.7 373.7,552.2 371.8,551.9 369.8,551.5 367.9,550.6 365.9,550.4 364.0,550.3 362.1,550.7 360.1,549.4 360.0,550.0 358.2,549.3 356.2,549.9 354.3,550.1 352.4,550.1 350.4,549.8 348.5,549.7 346.6,549.8 344.6,549.6 342.7,549.8 340.8,549.2 340.0,550.0 338.8,550.2 336.9,550.7 334.9,550.7 333.0,551.5 331.1,551.2 329.1,551.2 327.2,551.2 325.2,551.5 323.3,551.7 321.4,552.4 320.0,552.0 319.4,552.1 317.5,551.7 315.6,553.1 313.6,553.2 311.7,553.5 309.8,554.4 307.8,554.4 305.9,555.4 303.9,554.9 302.0,555.8 300.1,556.2 300.0,556.0 298.1,556.7 296.2,556.1 294.2,556.7 292.3,556.3 290.4,557.4 288.4,557.1 286.5,557.1 284.6,557.8 282.6,557.7 280.7,557.9 280.0,558.0 278.8,558.0 276.8,558.4 274.9,558.5 272.9,557.5 271.0,558.6 269.1,558.3 267.1,558.2 265.2,558.0 263.2,558.5 261.3,557.9 260.0,558.0 259.4,557.4 257.4,557.6 255.5,557.9 253.6,557.5 251.6,557.7 249.7,557.4 247.8,556.9 245.8,557.1 243.9,556.8 241.9,556.3 240.0,555.5 238.1,555.2 236.1,554.9 234.2,554.9 232.2,554.3 230.3,554.3 228.4,553.5 226.4,553.3 224.5,553.0 222.6,552.6 220.6,552.0 220.0,552.0 218.7,551.3 216.8,551.6 214.8,551.2 212.9,551.3 210.9,551.1 209.0,550.5 207.1,550.7 205.1,549.4 203.2,549.1 201.2,549.3 200.0,549.0 199.3,548.7 197.4,548.5 195.4,548.7 193.5,548.0 191.6,547.6 189.6,547.3 187.7,546.7 186.0,546.0 185.8,546.0 183.8,545.5 181.9,544.2 179.9,544.3 178.0,543.9 176.1,544.5 174.1,542.8 172.2,542.7 172.0,543.0 170.2,543.1 168.3,542.6 166.4,542.0 164.4,540.9 162.5,540.7 160.6,540.8 158.6,540.0 156.7,540.2 156.0,540.0 154.8,540.1 152.8,539.4 150.9,539.5 148.9,538.6 147.0,538.1 145.1,538.1 143.1,537.6 141.2,537.4 140.0,537.0 139.2,536.6 137.3,537.9 135.4,537.9 133.4,538.6 131.5,539.8 130.0,540.0 129.6,540.7 127.6,545.2 126.0,548.0 125.7,547.6 123.8,551.8 121.8,554.7 119.9,557.0 118.0,560.0 117.9,560.3 116.0,562.0 114.1,563.4 112.1,565.1 110.2,566.6 108.2,568.3 108.0,568.5" fill="#1f77b4" fill-opacity="0.1" stroke="#1f77b4" stroke-opacity="0.1" stroke-width="1.39" stroke-linejoin="round"/>
<polygon points="730.2,381.6 731.0,388.0 732.1,391.8 734.0,390.0 734.1,389.8 736.0,398.8 737.9,400.3 738.0,398.0 739.9,406.0 741.8,410.3 742.0,412.0 743.8,414.6 745.7,416.4 747.6,421.1 748.0,420.0 749.6,418.1 751.5,424.0 752.0,424.0 753.4,421.3 755.4,427.3 757.3,434.7 758.0,434.0 759.2,436.6 761.2,436.4 763.1,443.6 764.0,444.0 765.1,446.7 767.0,447.4 768.9,449.1 770.0,454.0 770.9,455.3 772.8,457.1 774.8,459.9 776.0,460.0 776.7,459.0 778.6,462.7 780.6,464.0 782.5,464.8 782.5,553.6 780.6,553.5 778.6,552.4 776.7,552.2 774.8,551.4 772.8,551.1 770.9,548.1 770.0,549.0 768.9,547.1 767.0,547.3 765.1,546.3 763.1,545.6 761.2,545.1 760.0,544.0 759.2,543.3 757.3,543.9 755.4,540.5 753.4,540.4 751.5,537.6 750.0,538.0 749.6,536.9 747.6,536.5 745.7,537.9 743.8,535.5 741.8,532.8 740.0,532.0 739.9,533.6 737.9,530.7 736.0,528.8 734.1,528.0 732.1,527.2 731.0,526.0 730.2,525.2" fill="#1f77b4" fill-opacity="0.1" stroke="#1f77b4" stroke-opacity="0.1" stroke-width="1.39" stroke-linejoin="round"/>
<polygon points="730.2,422.1 732.1,421.1 734.1,426.6 736.0,430.3 737.9,432.2 739.9,434.7 741.8,438.9 743.8,443.2 744.0,442.0 745.7,443.7 747.6,445.1 749.6,448.1 751.5,451.4 752.0,452.0 753.4,454.4 755.4,455.7 757.3,456.4 759.2,459.3 760.0,462.0 761.2,463.6 763.1,464.7 765.1,468.4 767.0,467.6 768.0,470.0 768.9,472.6 770.9,473.4 772.8,474.3 774.8,479.6 776.0,478.0 776.7,477.2 778.6,480.2 780.6,482.2 782.5,486.0 782.5,547.1 780.6,547.0 778.6,545.8 776.7,544.9 774.8,546.2 772.8,543.5 770.9,543.8 770.0,543.0 768.9,542.8 767.0,542.4 765.1,539.2 763.1,539.6 761.2,538.2 760.0,538.0 759.2,537.8 757.3,534.9 755.4,534.0 753.4,532.0 751.5,531.2 750.0,531.0 749.6,531.9 747.6,529.5 745.7,528.1 743.8,526.0 741.8,525.6 740.0,524.0 739.9,524.1 737.9,521.5 736.0,520.7 734.1,521.0 732.1,518.0 731.0,518.0 730.2,515.1" fill="#1f77b4" fill-opacity="0.1" stroke="#1f77b4" stroke-opacity="0.1" stroke-width="1.39" stroke-linejoin="round"/>
<polygon points="730.2,442.6 731.0,446.0 732.1,446.4 734.1,448.9 736.0,451.0 737.9,454.1 739.9,456.5 740.0,456.0 741.8,458.2 743.8,458.8 745.7,460.9 747.6,463.9 749.6,465.1 750.0,466.0 751.5,467.5 753.4,468.3 755.4,471.3 757.3,473.0 759.2,476.8 760.0,476.0 761.2,478.3 763.1,479.4 765.1,479.6 767.0,481.4 768.9,485.2 770.0,486.0 770.9,486.2 772.8,488.0 774.8,488.7 776.7,491.3 778.6,490.6 780.6,491.5 782.5,495.0 782.5,537.6 780.6,537.6 778.6,536.8 776.7,535.9 774.8,535.9 772.8,535.1 770.9,533.9 770.0,534.0 768.9,532.5 767.0,532.3 765.1,531.1 763.1,529.7 761.2,529.3 760.0,528.0 759.2,527.1 757.3,525.7 755.4,524.2 753.4,522.3 751.5,520.0 750.0,519.0 749.6,518.8 747.6,516.3 745.7,515.6 743.8,514.2 741.8,512.9 740.0,510.0 739.9,510.3 737.9,507.8 736.0,505.3 734.1,504.8 732.1,500.6 731.0,500.0 730.2,499.3" fill="#1f77b4" fill-opacity="0.1" stroke="#1f77b4" stroke-opacity="0.1" stroke-width="1.39" stroke-linejoin="round"/>
<line x1="69.5" x2="782.5" y1="568.50" y2="568.50" stroke="#b0b0b0" stroke-width="1.11"/>
<line x1="69.5" x2="782.5" y1="497.50" y2="497.50" stroke="#b0b0b0" stroke-width="1.11"/>
<line x1="69.5" x2="782.5" y1="426.50" y2="426.50" stroke="#b0b0b0" stroke-width="1.11"/>
<line x1="69.5" x2="782.5" y1="355.50" y2="355.50" stroke="#b0b0b0" stroke-width="1.11"/>
<line x1="69.5" x2="782.5" y1="283.50" y2="283.50" stroke="#b0b0b0" stroke-width="1.11"/>
<line x1="69.5" x2="782.5" y1="212.50" y2="212.50" stroke="#b0b0b0" stroke-width="1.11"/>
<line x1="69.5" x2="782.5" y1="141.50" y2="141.50" stroke="#b0b0b0" stroke-width="1.11"/>
<line x1="69.5" x2="782.5" y1="70.50" y2="70.50" stroke="#b0b0b0" stroke-width="1.11"/>
<polyline points="69.5,568.4 71.4,568.3 73.4,568.2 75.3,568.1 77.2,568.0 79.2,568.0 81.1,567.9 83.1,567.8 85.0,567.7 86.9,567.6 88.9,567.5 90.8,567.4 92.8,567.3 94.7,567.2 96.6,567.2 98.6,567.1 100.0,567.0 100.5,566.8 102.4,565.8 104.4,564.8 106.3,563.8 108.0,563.0 108.2,562.7 110.2,560.4 112.1,558.2 114.0,556.0 114.1,555.9 116.0,552.7 117.9,549.4 119.9,546.2 120.0,546.0 121.8,542.4 123.8,538.5 125.7,534.6 126.0,534.0 127.6,530.0 129.6,525.1 130.0,524.0 131.5,521.5 133.4,518.3 135.4,515.0 136.0,514.0 137.3,514.7 139.2,515.6 140.0,516.0 141.2,517.0 143.1,518.7 145.1,520.4 147.0,522.1 148.0,523.0 148.9,523.3 150.9,523.9 152.8,524.4 154.8,525.0 156.7,525.6 158.0,526.0 158.6,526.2 160.6,526.9 162.5,527.5 164.4,528.1 166.4,528.8 168.3,529.4 170.0,530.0 170.2,530.1 172.2,530.6 174.1,531.2 176.1,531.7 178.0,532.3 179.9,532.8 181.9,533.4 183.8,533.9 184.0,534.0 185.8,534.7 187.7,535.4 189.6,536.1 191.6,536.8 193.5,537.6 195.4,538.3 197.4,539.0 199.3,539.7 200.0,540.0 201.2,540.4 203.2,541.1 205.1,541.7 207.1,542.4 209.0,543.0 210.9,543.6 212.9,544.3 214.8,544.9 215.0,545.0 216.8,545.5 218.7,546.0 220.6,546.5 222.6,547.0 224.5,547.5 226.4,548.1 228.4,548.6 230.0,549.0 230.3,549.1 232.2,549.5 234.2,549.8 236.1,550.2 238.1,550.6 240.0,551.0 241.9,551.4 243.9,551.8 245.0,552.0 245.8,552.1 247.8,552.4 249.7,552.6 251.6,552.9 253.6,553.1 255.5,553.4 257.4,553.7 259.4,553.9 260.0,554.0 261.3,554.0 263.2,554.1 265.2,554.2 267.1,554.2 269.1,554.3 271.0,554.4 272.9,554.4 274.9,554.5 275.0,554.5 276.8,554.3 278.8,554.1 280.7,553.9 282.6,553.7 284.6,553.5 286.5,553.4 288.4,553.2 290.0,553.0 290.4,552.9 292.3,552.4 294.2,551.9 296.2,551.3 298.1,550.8 300.1,550.3 302.0,549.8 303.9,549.3 305.0,549.0 305.9,548.8 307.8,548.4 309.8,548.0 311.7,547.7 313.6,547.3 315.6,546.9 317.5,546.5 319.4,546.1 320.0,546.0 321.4,545.8 323.3,545.6 325.2,545.3 327.2,545.0 329.1,544.8 331.1,544.5 333.0,544.3 334.9,544.0 335.0,544.0 336.9,543.9 338.8,543.7 340.8,543.6 342.7,543.5 344.6,543.4 346.6,543.2 348.5,543.1 350.0,543.0 350.4,543.0 352.4,543.1 354.3,543.1 356.2,543.2 358.2,543.3 360.1,543.3 362.1,543.4 364.0,543.5 365.0,543.5 365.9,543.7 367.9,544.0 369.8,544.3 371.8,544.6 373.7,544.9 375.6,545.3 377.6,545.6 379.5,545.9 380.0,546.0 381.4,546.3 383.4,546.7 385.3,547.1 387.2,547.5 389.2,547.8 391.1,548.2 393.1,548.6 395.0,549.0 396.9,549.2 398.9,549.4 400.8,549.6 402.8,549.8 404.7,550.0 405.0,550.0 406.6,549.9 408.6,549.8 410.5,549.6 412.4,549.5 414.4,549.4 416.3,549.2 418.2,549.1 420.0,549.0 420.2,549.0 422.1,548.7 424.1,548.5 426.0,548.2 427.9,547.9 429.9,547.7 431.8,547.4 433.8,547.2 435.0,547.0 435.7,546.9 437.6,546.7 439.6,546.4 441.5,546.1 443.4,545.9 445.4,545.6 447.3,545.4 449.2,545.1 450.0,545.0 451.2,544.8 453.1,544.4 455.1,544.0 457.0,543.6 458.9,543.2 460.9,542.8 462.8,542.4 464.8,542.0 465.0,542.0 466.7,541.4 468.6,540.8 470.6,540.1 472.5,539.5 474.4,538.9 476.4,538.2 478.3,537.6 480.0,537.0 480.2,536.9 482.2,536.1 484.1,535.4 486.1,534.6 488.0,533.8 489.9,533.0 490.0,533.0 491.9,532.4 493.8,531.9 495.8,531.3 497.7,530.7 499.6,530.1 500.0,530.0 501.6,529.5 503.5,529.0 505.4,528.4 507.4,527.8 509.3,527.2 510.0,527.0 511.2,526.2 513.2,525.1 515.1,523.9 517.1,522.8 519.0,521.6 520.0,521.0 520.9,520.5 522.9,519.6 524.8,518.6 526.0,518.0 526.8,516.9 528.7,514.0 530.0,512.0 530.6,511.1 532.6,508.4 534.5,505.7 536.4,503.0 538.4,500.3 540.0,498.0 540.3,497.2 542.2,492.1 544.2,487.1 546.1,482.1 548.1,477.0 550.0,472.0 551.9,466.2 553.9,460.4 554.0,460.0 555.8,452.8 557.8,445.0 559.7,437.2 560.0,436.0 561.6,429.5 563.6,421.8 564.0,420.0 565.5,415.0 567.4,408.5 569.4,402.1 570.0,400.0 571.3,395.6 573.2,389.2 575.2,382.7 576.0,380.0 577.1,376.3 579.1,369.8 581.0,363.3 582.0,360.0 582.9,356.9 584.9,350.4 585.0,350.0 586.8,344.0 588.0,340.0 588.8,337.0 590.7,329.2 592.6,321.5 593.0,320.0 594.6,314.4 596.5,307.4 598.0,302.0 598.4,300.9 600.0,297.0 600.4,295.6 602.3,288.2 602.5,287.5 604.2,282.5 606.0,277.5 606.2,277.3 608.1,275.6 610.0,274.0 610.1,273.9 612.0,270.8 613.2,268.8 613.9,270.9 615.9,277.1 616.0,277.5 617.8,278.6 619.8,279.8 620.0,280.0 621.7,283.4 623.6,287.2 625.0,290.0 625.6,291.8 627.5,298.0 629.4,301.1 630.0,302.0 631.4,306.1 633.3,311.9 635.2,317.8 636.0,320.0 637.2,322.4 639.1,326.2 641.1,330.1 642.0,332.0 643.0,333.5 644.9,336.4 646.0,338.0 646.9,337.1 648.8,335.2 649.0,335.0 650.8,337.3 652.0,339.0 652.7,338.5 654.6,337.3 655.0,337.0 656.6,340.6 658.0,344.0 658.5,342.4 659.6,339.0 660.4,342.2 662.0,348.0 662.4,346.1 664.0,338.0 664.3,338.3 666.2,340.2 668.0,342.0 668.2,342.2 670.1,344.1 671.0,345.0 672.1,348.9 674.0,356.0 675.9,360.9 677.9,365.7 678.0,366.0 679.8,371.4 681.8,377.2 682.0,378.0 683.7,381.9 685.6,386.4 687.6,391.0 688.0,392.0 689.5,396.0 691.0,400.0 691.4,400.8 693.4,404.1 695.3,407.4 697.2,410.7 698.0,412.0 699.2,414.8 701.1,419.3 703.1,423.8 704.0,426.0 705.0,428.0 706.9,431.9 708.9,435.8 710.8,439.6 712.0,442.0 712.8,443.3 714.7,446.6 716.6,449.9 718.6,453.2 719.0,454.0 720.5,459.0 722.0,464.0 722.4,464.4 724.4,465.9 726.3,467.4 727.0,468.0 728.2,469.0" fill="none" stroke="#1f77b4" stroke-width="2.08" stroke-linejoin="round"/>
<polyline points="730.2,476.0 732.1,479.0 734.0,482.0 734.1,482.1 736.0,484.7 737.9,487.3 739.9,489.8 740.0,490.0 741.8,492.3 743.8,494.7 745.7,497.1 747.6,499.5 748.0,500.0 749.6,501.6 751.5,503.5 753.4,505.4 755.4,507.4 756.0,508.0 757.3,509.1 759.2,510.8 761.2,512.5 763.1,514.2 764.0,515.0 765.1,515.7 767.0,516.9 768.9,518.1 770.9,519.3 772.0,520.0 772.8,520.5 774.8,521.6 776.7,522.7 778.6,523.8 780.6,524.9 782.5,526.0" fill="none" stroke="#1f77b4" stroke-width="2.08" stroke-linejoin="round"/>
<g fill="#ff7f0e">
<circle cx="69.5" cy="568.2" r="4.85"/>
<circle cx="73.4" cy="568.2" r="4.85"/>
<circle cx="77.2" cy="568.2" r="4.85"/>
<circle cx="81.1" cy="568.2" r="4.85"/>
<circle cx="85.0" cy="568.2" r="4.85"/>
<circle cx="88.9" cy="568.2" r="4.85"/>
<circle cx="92.8" cy="568.2" r="4.85"/>
<circle cx="96.6" cy="568.2" r="4.85"/>
<circle cx="101.0" cy="564.0" r="4.85"/>
<circle cx="105.0" cy="562.0" r="4.85"/>
<circle cx="109.0" cy="557.0" r="4.85"/>
<circle cx="111.0" cy="553.0" r="4.85"/>
<circle cx="116.0" cy="552.0" r="4.85"/>
<circle cx="118.0" cy="549.0" r="4.85"/>
<circle cx="120.0" cy="546.0" r="4.85"/>
<circle cx="122.0" cy="542.0" r="4.85"/>
<circle cx="123.0" cy="539.0" r="4.85"/>
<circle cx="126.0" cy="532.0" r="4.85"/>
<circle cx="128.0" cy="536.0" r="4.85"/>
<circle cx="131.0" cy="535.0" r="4.85"/>
<circle cx="129.0" cy="515.0" r="4.85"/>
<circle cx="134.0" cy="524.0" r="4.85"/>
<circle cx="137.0" cy="517.0" r="4.85"/>
<circle cx="141.0" cy="519.0" r="4.85"/>
<circle cx="144.0" cy="533.0" r="4.85"/>
<circle cx="146.0" cy="530.0" r="4.85"/>
<circle cx="148.0" cy="534.0" r="4.85"/>
<circle cx="150.0" cy="528.0" r="4.85"/>
<circle cx="153.0" cy="521.0" r="4.85"/>
<circle cx="155.0" cy="524.0" r="4.85"/>
<circle cx="157.0" cy="519.0" r="4.85"/>
<circle cx="160.0" cy="538.0" r="4.85"/>
<circle cx="161.0" cy="530.0" r="4.85"/>
<circle cx="164.0" cy="542.0" r="4.85"/>
<circle cx="166.0" cy="502.0" r="4.85"/>
<circle cx="168.0" cy="516.0" r="4.85"/>
<circle cx="170.0" cy="541.0" r="4.85"/>
<circle cx="172.0" cy="536.0" r="4.85"/>
<circle cx="173.0" cy="522.0" r="4.85"/>
<circle cx="176.0" cy="534.0" r="4.85"/>
<circle cx="177.0" cy="528.0" r="4.85"/>
<circle cx="179.0" cy="521.0" r="4.85"/>
<circle cx="181.0" cy="527.0" r="4.85"/>
<circle cx="184.0" cy="539.0" r="4.85"/>
<circle cx="186.0" cy="523.0" r="4.85"/>
<circle cx="185.0" cy="547.0" r="4.85"/>
<circle cx="188.0" cy="536.0" r="4.85"/>
<circle cx="192.0" cy="532.0" r="4.85"/>
<circle cx="196.0" cy="527.0" r="4.85"/>
<circle cx="198.0" cy="530.0" r="4.85"/>
<circle cx="201.0" cy="553.0" r="4.85"/>
<circle cx="203.0" cy="545.0" r="4.85"/>
<circle cx="205.0" cy="540.0" r="4.85"/>
<circle cx="209.0" cy="539.0" r="4.85"/>
<circle cx="210.0" cy="546.0" r="4.85"/>
<circle cx="212.0" cy="553.0" r="4.85"/>
<circle cx="214.0" cy="548.0" r="4.85"/>
<circle cx="216.0" cy="540.0" r="4.85"/>
<circle cx="218.0" cy="536.0" r="4.85"/>
<circle cx="220.0" cy="548.0" r="4.85"/>
<circle cx="219.0" cy="551.0" r="4.85"/>
<circle cx="225.0" cy="546.0" r="4.85"/>
<circle cx="229.0" cy="558.0" r="4.85"/>
<circle cx="230.0" cy="544.0" r="4.85"/>
<circle cx="236.0" cy="547.0" r="4.85"/>
<circle cx="239.0" cy="556.0" r="4.85"/>
<circle cx="243.0" cy="552.0" r="4.85"/>
<circle cx="247.0" cy="556.0" r="4.85"/>
<circle cx="251.0" cy="549.0" r="4.85"/>
<circle cx="255.0" cy="556.0" r="4.85"/>
<circle cx="259.0" cy="557.0" r="4.85"/>
<circle cx="263.0" cy="551.0" r="4.85"/>
<circle cx="266.0" cy="561.0" r="4.85"/>
<circle cx="270.0" cy="557.0" r="4.85"/>
<circle cx="273.0" cy="559.0" r="4.85"/>
<circle cx="277.0" cy="555.0" r="4.85"/>
<circle cx="280.0" cy="558.0" r="4.85"/>
<circle cx="283.0" cy="551.0" r="4.85"/>
<circle cx="286.0" cy="556.0" r="4.85"/>
<circle cx="290.0" cy="549.0" r="4.85"/>
<circle cx="293.0" cy="557.0" r="4.85"/>
<circle cx="297.0" cy="554.0" r="4.85"/>
<circle cx="301.0" cy="544.0" r="4.85"/>
<circle cx="304.0" cy="553.0" r="4.85"/>
<circle cx="308.0" cy="555.0" r="4.85"/>
<circle cx="311.0" cy="546.0" r="4.85"/>
<circle cx="317.0" cy="542.0" r="4.85"/>
<circle cx="320.0" cy="551.0" r="4.85"/>
<circle cx="323.0" cy="551.0" r="4.85"/>
<circle cx="326.0" cy="542.0" r="4.85"/>
<circle cx="331.0" cy="542.0" r="4.85"/>
<circle cx="334.0" cy="552.0" r="4.85"/>
<circle cx="338.0" cy="540.0" r="4.85"/>
<circle cx="344.0" cy="535.0" r="4.85"/>
<circle cx="348.0" cy="548.0" r="4.85"/>
<circle cx="350.0" cy="535.0" r="4.85"/>
<circle cx="354.0" cy="542.0" r="4.85"/>
<circle cx="360.0" cy="552.0" r="4.85"/>
<circle cx="366.0" cy="547.0" r="4.85"/>
<circle cx="372.0" cy="550.0" r="4.85"/>
<circle cx="378.0" cy="544.0" r="4.85"/>
<circle cx="383.0" cy="540.0" r="4.85"/>
<circle cx="386.0" cy="548.0" r="4.85"/>
<circle cx="390.0" cy="553.0" r="4.85"/>
<circle cx="396.0" cy="546.0" r="4.85"/>
<circle cx="400.0" cy="548.0" r="4.85"/>
<circle cx="403.0" cy="554.0" r="4.85"/>
<circle cx="408.0" cy="553.0" r="4.85"/>
<circle cx="412.0" cy="544.0" r="4.85"/>
<circle cx="417.0" cy="551.0" r="4.85"/>
<circle cx="420.0" cy="542.0" r="4.85"/>
<circle cx="424.0" cy="538.0" r="4.85"/>
<circle cx="428.0" cy="547.0" r="4.85"/>
<circle cx="433.0" cy="555.0" r="4.85"/>
<circle cx="435.0" cy="546.0" r="4.85"/>
<circle cx="439.0" cy="540.0" r="4.85"/>
<circle cx="443.0" cy="552.0" r="4.85"/>
<circle cx="448.0" cy="539.0" r="4.85"/>
<circle cx="453.0" cy="542.0" r="4.85"/>
<circle cx="456.0" cy="549.0" r="4.85"/>
<circle cx="462.0" cy="545.0" r="4.85"/>
<circle cx="468.0" cy="543.0" r="4.85"/>
<circle cx="474.0" cy="526.0" r="4.85"/>
<circle cx="476.0" cy="541.0" r="4.85"/>
<circle cx="481.0" cy="535.0" r="4.85"/>
<circle cx="482.4" cy="566.4" r="4.85"/>
<circle cx="483.4" cy="514.0" r="4.85"/>
<circle cx="485.0" cy="543.0" r="4.85"/>
<circle cx="489.0" cy="530.0" r="4.85"/>
<circle cx="493.0" cy="527.0" r="4.85"/>
<circle cx="496.0" cy="525.0" r="4.85"/>
<circle cx="498.0" cy="540.0" r="4.85"/>
<circle cx="501.0" cy="517.0" r="4.85"/>
<circle cx="504.0" cy="531.0" r="4.85"/>
<circle cx="508.0" cy="520.0" r="4.85"/>
<circle cx="511.4" cy="537.0" r="4.85"/>
<circle cx="514.0" cy="523.0" r="4.85"/>
<circle cx="518.0" cy="508.0" r="4.85"/>
<circle cx="520.0" cy="517.0" r="4.85"/>
<circle cx="503.0" cy="526.0" r="4.85"/>
<circle cx="516.0" cy="529.0" r="4.85"/>
<circle cx="524.0" cy="528.0" r="4.85"/>
<circle cx="527.0" cy="500.0" r="4.85"/>
<circle cx="531.0" cy="505.0" r="4.85"/>
<circle cx="534.0" cy="497.0" r="4.85"/>
<circle cx="537.0" cy="505.0" r="4.85"/>
<circle cx="538.6" cy="521.0" r="4.85"/>
<circle cx="540.0" cy="491.0" r="4.85"/>
<circle cx="543.0" cy="485.0" r="4.85"/>
<circle cx="545.0" cy="489.0" r="4.85"/>
<circle cx="549.0" cy="477.0" r="4.85"/>
<circle cx="551.4" cy="494.6" r="4.85"/>
<circle cx="547.4" cy="464.0" r="4.85"/>
<circle cx="557.0" cy="452.0" r="4.85"/>
<circle cx="555.0" cy="444.0" r="4.85"/>
<circle cx="553.6" cy="438.6" r="4.85"/>
<circle cx="563.0" cy="443.0" r="4.85"/>
<circle cx="565.0" cy="437.0" r="4.85"/>
<circle cx="592.0" cy="423.6" r="4.85"/>
<circle cx="646.0" cy="434.4" r="4.85"/>
<circle cx="648.0" cy="423.0" r="4.85"/>
<circle cx="659.0" cy="442.0" r="4.85"/>
<circle cx="660.0" cy="430.0" r="4.85"/>
<circle cx="559.0" cy="396.0" r="4.85"/>
<circle cx="561.0" cy="402.0" r="4.85"/>
<circle cx="567.0" cy="391.0" r="4.85"/>
<circle cx="569.0" cy="404.0" r="4.85"/>
<circle cx="576.0" cy="402.0" r="4.85"/>
<circle cx="571.0" cy="382.0" r="4.85"/>
<circle cx="574.0" cy="374.0" r="4.85"/>
<circle cx="575.0" cy="368.0" r="4.85"/>
<circle cx="579.0" cy="382.0" r="4.85"/>
<circle cx="583.0" cy="386.0" r="4.85"/>
<circle cx="584.0" cy="367.0" r="4.85"/>
<circle cx="586.4" cy="358.0" r="4.85"/>
<circle cx="590.4" cy="374.0" r="4.85"/>
<circle cx="588.4" cy="331.4" r="4.85"/>
<circle cx="594.0" cy="408.0" r="4.85"/>
<circle cx="596.4" cy="403.0" r="4.85"/>
<circle cx="598.4" cy="319.0" r="4.85"/>
<circle cx="606.4" cy="349.4" r="4.85"/>
<circle cx="607.0" cy="322.0" r="4.85"/>
<circle cx="611.6" cy="320.0" r="4.85"/>
<circle cx="609.0" cy="283.0" r="4.85"/>
<circle cx="617.0" cy="304.4" r="4.85"/>
<circle cx="619.0" cy="283.0" r="4.85"/>
<circle cx="622.0" cy="296.0" r="4.85"/>
<circle cx="624.0" cy="281.0" r="4.85"/>
<circle cx="628.0" cy="310.0" r="4.85"/>
<circle cx="632.0" cy="313.0" r="4.85"/>
<circle cx="635.6" cy="298.0" r="4.85"/>
<circle cx="639.4" cy="292.4" r="4.85"/>
<circle cx="640.6" cy="304.4" r="4.85"/>
<circle cx="637.4" cy="347.4" r="4.85"/>
<circle cx="633.4" cy="381.4" r="4.85"/>
<circle cx="642.4" cy="387.4" r="4.85"/>
<circle cx="644.4" cy="370.4" r="4.85"/>
<circle cx="650.4" cy="317.4" r="4.85"/>
<circle cx="652.4" cy="325.4" r="4.85"/>
<circle cx="654.4" cy="304.4" r="4.85"/>
<circle cx="658.4" cy="322.4" r="4.85"/>
<circle cx="656.4" cy="369.0" r="4.85"/>
<circle cx="664.4" cy="315.4" r="4.85"/>
<circle cx="666.4" cy="295.4" r="4.85"/>
<circle cx="668.4" cy="293.0" r="4.85"/>
<circle cx="671.4" cy="303.0" r="4.85"/>
<circle cx="670.4" cy="276.4" r="4.85"/>
<circle cx="679.4" cy="342.4" r="4.85"/>
<circle cx="673.0" cy="376.0" r="4.85"/>
<circle cx="676.0" cy="381.0" r="4.85"/>
<circle cx="677.0" cy="361.0" r="4.85"/>
<circle cx="681.6" cy="363.0" r="4.85"/>
<circle cx="691.4" cy="372.4" r="4.85"/>
<circle cx="685.4" cy="385.0" r="4.85"/>
<circle cx="683.4" cy="394.4" r="4.85"/>
<circle cx="688.0" cy="407.0" r="4.85"/>
<circle cx="694.0" cy="407.0" r="4.85"/>
<circle cx="697.0" cy="410.0" r="4.85"/>
<circle cx="698.4" cy="417.5" r="4.85"/>
<circle cx="615.5" cy="186.2" r="4.85"/>
<circle cx="602.5" cy="228.0" r="4.85"/>
<circle cx="613.2" cy="228.0" r="4.85"/>
<circle cx="604.5" cy="243.8" r="4.85"/>
<circle cx="600.0" cy="247.0" r="4.85"/>
<circle cx="627.5" cy="277.5" r="4.85"/>
<circle cx="710.4" cy="300.4" r="4.85"/>
<circle cx="708.4" cy="390.4" r="4.85"/>
<circle cx="706.4" cy="402.4" r="4.85"/>
<circle cx="702.0" cy="434.0" r="4.85"/>
<circle cx="705.0" cy="433.0" r="4.85"/>
<circle cx="712.4" cy="437.0" r="4.85"/>
<circle cx="724.4" cy="433.4" r="4.85"/>
<circle cx="718.4" cy="449.4" r="4.85"/>
<circle cx="732.4" cy="446.4" r="4.85"/>
<circle cx="726.4" cy="455.0" r="4.85"/>
<circle cx="735.0" cy="456.0" r="4.85"/>
<circle cx="689.6" cy="461.4" r="4.85"/>
<circle cx="701.4" cy="464.4" r="4.85"/>
<circle cx="714.4" cy="462.4" r="4.85"/>
<circle cx="722.4" cy="471.0" r="4.85"/>
<circle cx="720.4" cy="478.4" r="4.85"/>
<circle cx="739.4" cy="465.0" r="4.85"/>
<circle cx="747.4" cy="468.4" r="4.85"/>
<circle cx="737.4" cy="474.4" r="4.85"/>
<circle cx="734.0" cy="478.0" r="4.85"/>
<circle cx="730.0" cy="479.4" r="4.85"/>
<circle cx="749.4" cy="476.4" r="4.85"/>
<circle cx="745.4" cy="483.0" r="4.85"/>
<circle cx="751.4" cy="489.0" r="4.85"/>
<circle cx="754.4" cy="495.0" r="4.85"/>
<circle cx="741.4" cy="498.0" r="4.85"/>
<circle cx="760.4" cy="488.4" r="4.85"/>
<circle cx="764.4" cy="481.4" r="4.85"/>
<circle cx="766.4" cy="485.0" r="4.85"/>
<circle cx="776.4" cy="482.0" r="4.85"/>
<circle cx="780.0" cy="489.0" r="4.85"/>
<circle cx="774.4" cy="494.0" r="4.85"/>
<circle cx="770.4" cy="499.0" r="4.85"/>
<circle cx="763.4" cy="500.0" r="4.85"/>
<circle cx="780.0" cy="499.0" r="4.85"/>
<circle cx="757.0" cy="492.0" r="4.85"/>
<circle cx="768.0" cy="491.0" r="4.85"/>
<circle cx="772.0" cy="487.0" r="4.85"/>
<circle cx="778.0" cy="493.0" r="4.85"/>
<circle cx="743.4" cy="518.4" r="4.85"/>
<circle cx="755.4" cy="517.0" r="4.85"/>
<circle cx="758.0" cy="515.0" r="4.85"/>
<circle cx="768.4" cy="517.4" r="4.85"/>
<circle cx="781.0" cy="519.4" r="4.85"/>
<circle cx="102.4" cy="564.8" r="4.85"/>
<circle cx="106.3" cy="562.8" r="4.85"/>
<circle cx="112.1" cy="553.8" r="4.85"/>
<circle cx="114.1" cy="552.8" r="4.85"/>
<circle cx="135.4" cy="524.8" r="4.85"/>
<circle cx="139.2" cy="519.8" r="4.85"/>
<circle cx="147.0" cy="530.8" r="4.85"/>
<circle cx="158.6" cy="538.8" r="4.85"/>
<circle cx="162.5" cy="530.8" r="4.85"/>
<circle cx="174.1" cy="522.8" r="4.85"/>
<circle cx="178.0" cy="528.8" r="4.85"/>
<circle cx="189.6" cy="536.8" r="4.85"/>
<circle cx="193.5" cy="532.8" r="4.85"/>
<circle cx="199.3" cy="530.8" r="4.85"/>
<circle cx="207.1" cy="539.8" r="4.85"/>
<circle cx="222.6" cy="542.6" r="4.85"/>
<circle cx="226.4" cy="547.1" r="4.85"/>
<circle cx="232.2" cy="550.3" r="4.85"/>
<circle cx="234.2" cy="552.4" r="4.85"/>
<circle cx="240.0" cy="552.6" r="4.85"/>
<circle cx="241.9" cy="552.3" r="4.85"/>
<circle cx="245.8" cy="552.1" r="4.85"/>
<circle cx="249.7" cy="555.3" r="4.85"/>
<circle cx="253.6" cy="556.0" r="4.85"/>
<circle cx="257.4" cy="552.2" r="4.85"/>
<circle cx="261.3" cy="557.0" r="4.85"/>
<circle cx="267.1" cy="557.9" r="4.85"/>
<circle cx="271.0" cy="558.7" r="4.85"/>
<circle cx="274.9" cy="557.5" r="4.85"/>
<circle cx="278.8" cy="556.9" r="4.85"/>
<circle cx="284.6" cy="551.8" r="4.85"/>
<circle cx="288.4" cy="554.2" r="4.85"/>
<circle cx="294.2" cy="553.3" r="4.85"/>
<circle cx="298.1" cy="553.5" r="4.85"/>
<circle cx="302.0" cy="553.7" r="4.85"/>
<circle cx="305.9" cy="550.7" r="4.85"/>
<circle cx="309.8" cy="546.6" r="4.85"/>
<circle cx="313.6" cy="549.8" r="4.85"/>
<circle cx="315.6" cy="547.3" r="4.85"/>
<circle cx="321.4" cy="544.7" r="4.85"/>
<circle cx="327.2" cy="542.3" r="4.85"/>
<circle cx="329.1" cy="549.8" r="4.85"/>
<circle cx="333.0" cy="545.7" r="4.85"/>
<circle cx="336.9" cy="548.6" r="4.85"/>
<circle cx="340.8" cy="549.9" r="4.85"/>
<circle cx="342.7" cy="544.3" r="4.85"/>
<circle cx="346.6" cy="547.0" r="4.85"/>
<circle cx="352.4" cy="540.1" r="4.85"/>
<circle cx="356.2" cy="548.6" r="4.85"/>
<circle cx="358.2" cy="546.4" r="4.85"/>
<circle cx="362.1" cy="551.7" r="4.85"/>
<circle cx="364.0" cy="551.4" r="4.85"/>
<circle cx="367.9" cy="547.3" r="4.85"/>
<circle cx="369.8" cy="547.4" r="4.85"/>
<circle cx="373.7" cy="545.3" r="4.85"/>
<circle cx="375.6" cy="549.8" r="4.85"/>
<circle cx="379.5" cy="543.5" r="4.85"/>
<circle cx="381.4" cy="545.0" r="4.85"/>
<circle cx="387.2" cy="543.9" r="4.85"/>
<circle cx="391.1" cy="549.6" r="4.85"/>
<circle cx="393.1" cy="548.7" r="4.85"/>
<circle cx="395.0" cy="548.5" r="4.85"/>
<circle cx="398.9" cy="550.7" r="4.85"/>
<circle cx="404.7" cy="551.5" r="4.85"/>
<circle cx="406.6" cy="552.5" r="4.85"/>
<circle cx="410.5" cy="550.1" r="4.85"/>
<circle cx="414.4" cy="550.5" r="4.85"/>
<circle cx="418.2" cy="543.7" r="4.85"/>
<circle cx="422.1" cy="547.0" r="4.85"/>
<circle cx="426.0" cy="544.0" r="4.85"/>
<circle cx="429.9" cy="546.2" r="4.85"/>
<circle cx="431.8" cy="553.7" r="4.85"/>
<circle cx="437.6" cy="551.8" r="4.85"/>
<circle cx="441.5" cy="545.4" r="4.85"/>
<circle cx="445.4" cy="546.4" r="4.85"/>
<circle cx="449.2" cy="547.0" r="4.85"/>
<circle cx="451.2" cy="541.1" r="4.85"/>
<circle cx="457.0" cy="547.8" r="4.85"/>
<circle cx="458.9" cy="546.0" r="4.85"/>
<circle cx="460.9" cy="546.1" r="4.85"/>
<circle cx="464.8" cy="543.1" r="4.85"/>
<circle cx="466.7" cy="544.7" r="4.85"/>
<circle cx="470.6" cy="542.8" r="4.85"/>
<circle cx="472.5" cy="527.5" r="4.85"/>
<circle cx="478.3" cy="539.6" r="4.85"/>
<circle cx="486.1" cy="533.6" r="4.85"/>
<circle cx="488.0" cy="529.4" r="4.85"/>
<circle cx="491.9" cy="530.8" r="4.85"/>
<circle cx="499.6" cy="529.6" r="4.85"/>
<circle cx="505.4" cy="529.6" r="4.85"/>
<circle cx="509.3" cy="523.4" r="4.85"/>
<circle cx="519.0" cy="523.8" r="4.85"/>
<circle cx="522.9" cy="508.9" r="4.85"/>
<circle cx="528.7" cy="503.6" r="4.85"/>
<circle cx="532.6" cy="501.7" r="4.85"/>
</g>
<line x1="728.25" x2="728.25" y1="568.5" y2="15.5" stroke="#1f77b4" stroke-opacity="0.5" stroke-width="2.08" stroke-dasharray="7.7,3.33"/>
</g>
<rect x="69.5" y="15.5" width="713.0" height="553.0" fill="none" stroke="#000" stroke-width="1.11"/>
<line x1="64.64" x2="69.5" y1="568.50" y2="568.50" stroke="#000" stroke-width="1.11"/>
<text x="58.50" y="573" font-size="13.89" text-anchor="end" letter-spacing="-0.3">0</text>
<line x1="64.64" x2="69.5" y1="497.50" y2="497.50" stroke="#000" stroke-width="1.11"/>
<text x="58.50" y="502" font-size="13.89" text-anchor="end" letter-spacing="-0.3">2500</text>
<line x1="64.64" x2="69.5" y1="426.50" y2="426.50" stroke="#000" stroke-width="1.11"/>
<text x="58.50" y="431" font-size="13.89" text-anchor="end" letter-spacing="-0.3">5000</text>
<line x1="64.64" x2="69.5" y1="355.50" y2="355.50" stroke="#000" stroke-width="1.11"/>
<text x="58.50" y="360" font-size="13.89" text-anchor="end" letter-spacing="-0.3">7500</text>
<line x1="64.64" x2="69.5" y1="283.50" y2="283.50" stroke="#000" stroke-width="1.11"/>
<text x="58.50" y="289" font-size="13.89" text-anchor="end" letter-spacing="-0.3">10000</text>
<line x1="64.64" x2="69.5" y1="212.50" y2="212.50" stroke="#000" stroke-width="1.11"/>
<text x="58.50" y="217" font-size="13.89" text-anchor="end" letter-spacing="-0.3">12500</text>
<line x1="64.64" x2="69.5" y1="141.50" y2="141.50" stroke="#000" stroke-width="1.11"/>
<text x="58.50" y="146" font-size="13.89" text-anchor="end" letter-spacing="-0.3">15000</text>
<line x1="64.64" x2="69.5" y1="70.50" y2="70.50" stroke="#000" stroke-width="1.11"/>
<text x="58.50" y="75" font-size="13.89" text-anchor="end" letter-spacing="-0.3">17500</text>
<line x1="123.50" x2="123.50" y1="568.5" y2="573.36" stroke="#000" stroke-width="1.11"/>
<line x1="181.50" x2="181.50" y1="568.5" y2="573.36" stroke="#000" stroke-width="1.11"/>
<line x1="241.50" x2="241.50" y1="568.5" y2="573.36" stroke="#000" stroke-width="1.11"/>
<line x1="300.50" x2="300.50" y1="568.5" y2="573.36" stroke="#000" stroke-width="1.11"/>
<line x1="360.50" x2="360.50" y1="568.5" y2="573.36" stroke="#000" stroke-width="1.11"/>
<line x1="420.50" x2="420.50" y1="568.5" y2="573.36" stroke="#000" stroke-width="1.11"/>
<line x1="478.50" x2="478.50" y1="568.5" y2="573.36" stroke="#000" stroke-width="1.11"/>
<line x1="538.50" x2="538.50" y1="568.5" y2="573.36" stroke="#000" stroke-width="1.11"/>
<line x1="596.50" x2="596.50" y1="568.5" y2="573.36" stroke="#000" stroke-width="1.11"/>
<line x1="656.50" x2="656.50" y1="568.5" y2="573.36" stroke="#000" stroke-width="1.11"/>
<line x1="716.50" x2="716.50" y1="568.5" y2="573.36" stroke="#000" stroke-width="1.11"/>
<line x1="770.50" x2="770.50" y1="568.5" y2="573.36" stroke="#000" stroke-width="1.11"/>
<line x1="69.50" x2="69.50" y1="568.5" y2="573.36" stroke="#000" stroke-width="1.11"/>
<line x1="782.50" x2="782.50" y1="568.5" y2="573.36" stroke="#000" stroke-width="1.11"/>
<line x1="78.50" x2="78.50" y1="568.5" y2="571.50" stroke="#000" stroke-width="0.9"/>
<line x1="92.50" x2="92.50" y1="568.5" y2="571.50" stroke="#000" stroke-width="0.9"/>
<line x1="106.50" x2="106.50" y1="568.5" y2="571.50" stroke="#000" stroke-width="0.9"/>
<line x1="119.50" x2="119.50" y1="568.5" y2="571.50" stroke="#000" stroke-width="0.9"/>
<line x1="133.50" x2="133.50" y1="568.5" y2="571.50" stroke="#000" stroke-width="0.9"/>
<line x1="146.50" x2="146.50" y1="568.5" y2="571.50" stroke="#000" stroke-width="0.9"/>
<line x1="160.50" x2="160.50" y1="568.5" y2="571.50" stroke="#000" stroke-width="0.9"/>
<line x1="173.50" x2="173.50" y1="568.5" y2="571.50" stroke="#000" stroke-width="0.9"/>
<line x1="187.50" x2="187.50" y1="568.5" y2="571.50" stroke="#000" stroke-width="0.9"/>
<line x1="201.50" x2="201.50" y1="568.5" y2="571.50" stroke="#000" stroke-width="0.9"/>
<line x1="214.50" x2="214.50" y1="568.5" y2="571.50" stroke="#000" stroke-width="0.9"/>
<line x1="228.50" x2="228.50" y1="568.5" y2="571.50" stroke="#000" stroke-width="0.9"/>
<line x1="241.50" x2="241.50" y1="568.5" y2="571.50" stroke="#000" stroke-width="0.9"/>
<line x1="255.50" x2="255.50" y1="568.5" y2="571.50" stroke="#000" stroke-width="0.9"/>
<line x1="268.50" x2="268.50" y1="568.5" y2="571.50" stroke="#000" stroke-width="0.9"/>
<line x1="282.50" x2="282.50" y1="568.5" y2="571.50" stroke="#000" stroke-width="0.9"/>
<line x1="295.50" x2="295.50" y1="568.5" y2="571.50" stroke="#000" stroke-width="0.9"/>
<line x1="309.50" x2="309.50" y1="568.5" y2="571.50" stroke="#000" stroke-width="0.9"/>
<line x1="323.50" x2="323.50" y1="568.5" y2="571.50" stroke="#000" stroke-width="0.9"/>
<line x1="336.50" x2="336.50" y1="568.5" y2="571.50" stroke="#000" stroke-width="0.9"/>
<line x1="350.50" x2="350.50" y1="568.5" y2="571.50" stroke="#000" stroke-width="0.9"/>
<line x1="363.50" x2="363.50" y1="568.5" y2="571.50" stroke="#000" stroke-width="0.9"/>
<line x1="377.50" x2="377.50" y1="568.5" y2="571.50" stroke="#000" stroke-width="0.9"/>
<line x1="390.50" x2="390.50" y1="568.5" y2="571.50" stroke="#000" stroke-width="0.9"/>
<line x1="404.50" x2="404.50" y1="568.5" y2="571.50" stroke="#000" stroke-width="0.9"/>
<line x1="418.50" x2="418.50" y1="568.5" y2="571.50" stroke="#000" stroke-width="0.9"/>
<line x1="431.50" x2="431.50" y1="568.5" y2="571.50" stroke="#000" stroke-width="0.9"/>
<line x1="445.50" x2="445.50" y1="568.5" y2="571.50" stroke="#000" stroke-width="0.9"/>
<line x1="458.50" x2="458.50" y1="568.5" y2="571.50" stroke="#000" stroke-width="0.9"/>
<line x1="472.50" x2="472.50" y1="568.5" y2="571.50" stroke="#000" stroke-width="0.9"/>
<line x1="485.50" x2="485.50" y1="568.5" y2="571.50" stroke="#000" stroke-width="0.9"/>
<line x1="499.50" x2="499.50" y1="568.5" y2="571.50" stroke="#000" stroke-width="0.9"/>
<line x1="512.50" x2="512.50" y1="568.5" y2="571.50" stroke="#000" stroke-width="0.9"/>
<line x1="526.50" x2="526.50" y1="568.5" y2="571.50" stroke="#000" stroke-width="0.9"/>
<line x1="540.50" x2="540.50" y1="568.5" y2="571.50" stroke="#000" stroke-width="0.9"/>
<line x1="553.50" x2="553.50" y1="568.5" y2="571.50" stroke="#000" stroke-width="0.9"/>
<line x1="567.50" x2="567.50" y1="568.5" y2="571.50" stroke="#000" stroke-width="0.9"/>
<line x1="580.50" x2="580.50" y1="568.5" y2="571.50" stroke="#000" stroke-width="0.9"/>
<line x1="594.50" x2="594.50" y1="568.5" y2="571.50" stroke="#000" stroke-width="0.9"/>
<line x1="607.50" x2="607.50" y1="568.5" y2="571.50" stroke="#000" stroke-width="0.9"/>
<line x1="621.50" x2="621.50" y1="568.5" y2="571.50" stroke="#000" stroke-width="0.9"/>
<line x1="635.50" x2="635.50" y1="568.5" y2="571.50" stroke="#000" stroke-width="0.9"/>
<line x1="648.50" x2="648.50" y1="568.5" y2="571.50" stroke="#000" stroke-width="0.9"/>
<line x1="662.50" x2="662.50" y1="568.5" y2="571.50" stroke="#000" stroke-width="0.9"/>
<line x1="675.50" x2="675.50" y1="568.5" y2="571.50" stroke="#000" stroke-width="0.9"/>
<line x1="689.50" x2="689.50" y1="568.5" y2="571.50" stroke="#000" stroke-width="0.9"/>
<line x1="702.50" x2="702.50" y1="568.5" y2="571.50" stroke="#000" stroke-width="0.9"/>
<line x1="716.50" x2="716.50" y1="568.5" y2="571.50" stroke="#000" stroke-width="0.9"/>
<line x1="729.50" x2="729.50" y1="568.5" y2="571.50" stroke="#000" stroke-width="0.9"/>
<line x1="743.50" x2="743.50" y1="568.5" y2="571.50" stroke="#000" stroke-width="0.9"/>
<line x1="757.50" x2="757.50" y1="568.5" y2="571.50" stroke="#000" stroke-width="0.9"/>
<line x1="770.50" x2="770.50" y1="568.5" y2="571.50" stroke="#000" stroke-width="0.9"/>
<rect x="76.4" y="22.40" width="157.5" height="25" rx="2.8" ry="2.8" fill="#fff" fill-opacity="0.8" stroke="#ccc" stroke-width="1.39"/>
<line x1="80.2" x2="109.8" y1="33.70" y2="33.70" stroke="#1f77b4" stroke-width="2.08"/>
<text x="120.2" y="38.40" font-size="13.89">daily confirmed</text>
<g clip-path="url(#cb)">
<polygon points="100.0,1145.0 100.5,1144.7 102.4,1142.1 104.4,1140.6 106.3,1138.1 108.2,1137.4 110.0,1135.0 110.2,1135.1 112.1,1127.9 114.1,1123.6 115.0,1122.5 116.0,1116.6 117.9,1111.9 118.8,1110.0 119.9,1100.7 121.8,1092.6 122.5,1090.0 123.8,1079.3 125.7,1061.0 126.2,1060.0 127.6,1049.6 129.6,1031.0 130.0,1022.5 131.5,1009.5 132.5,990.0 133.4,983.6 135.0,960.0 135.4,954.5 136.2,950.0 137.3,933.2 138.8,920.0 139.2,907.8 141.2,885.5 141.2,890.0 142.5,862.5 143.1,854.5 145.0,830.0 145.1,826.9 146.2,805.0 147.0,796.2 148.9,789.4 150.0,785.0 150.9,774.5 152.8,755.0 153.8,745.0 154.8,730.2 156.2,725.0 156.7,716.9 158.6,707.9 160.0,697.5 160.6,694.9 162.5,705.1 164.4,678.0 165.0,665.0 166.2,645.0 166.4,660.0 168.3,648.8 170.0,652.5 170.2,657.1 172.0,632.5 172.2,622.1 173.8,617.5 174.1,623.0 175.5,642.5 176.1,637.5 178.0,645.9 178.8,652.5 179.9,651.3 181.9,653.5 182.5,656.0 183.8,654.8 185.0,642.5 185.8,645.9 187.5,657.5 187.7,653.6 189.6,649.2 190.0,637.5 191.6,647.1 192.5,662.5 193.5,676.2 193.8,680.0 195.4,684.6 197.0,685.0 197.4,686.7 198.8,712.5 199.3,711.6 201.2,721.1 203.0,690.0 203.2,706.9 205.0,720.0 205.1,716.8 207.1,702.0 207.5,702.5 209.0,675.8 210.0,720.0 210.9,746.6 211.2,750.0 212.9,742.7 213.0,745.0 214.0,780.0 214.8,796.0 216.0,806.0 216.8,805.6 218.7,800.0 219.0,792.0 220.6,803.6 222.0,816.0 222.6,817.5 224.5,825.7 225.0,824.0 226.4,836.8 228.0,846.0 228.4,841.8 230.3,862.9 232.0,864.0 232.2,869.5 234.2,888.1 235.0,892.0 236.1,882.9 237.6,868.0 238.1,873.5 239.6,890.0 240.0,882.4 241.6,869.0 241.9,873.8 243.6,900.0 243.9,905.8 245.8,905.9 246.0,916.0 247.6,908.0 247.8,914.1 249.7,930.4 250.0,940.0 251.6,938.6 253.6,954.8 254.0,954.0 255.5,956.3 257.4,954.3 258.0,958.0 259.4,968.2 261.0,988.0 261.3,990.2 263.2,977.9 265.0,974.0 265.2,983.1 267.1,984.0 268.0,988.0 269.1,995.3 270.0,1003.0 271.0,1007.2 272.9,1008.7 274.9,1018.3 276.8,1021.1 277.5,1017.5 278.8,1019.6 280.7,1022.4 282.6,1022.2 284.6,1024.5 285.0,1027.5 286.5,1032.5 288.4,1036.3 290.0,1042.5 290.4,1042.0 292.3,1044.9 294.2,1051.1 296.2,1059.2 297.5,1055.0 298.1,1048.9 300.1,1056.1 302.0,1058.3 303.9,1056.9 305.0,1057.5 305.9,1057.2 307.8,1060.0 309.8,1064.2 311.7,1062.8 312.5,1062.5 313.6,1062.5 315.6,1061.0 317.5,1063.9 319.4,1069.8 320.0,1068.8 321.4,1072.0 323.3,1066.5 325.2,1065.5 327.2,1064.3 327.5,1066.2 329.1,1070.8 331.1,1074.3 333.0,1068.0 334.9,1074.6 335.0,1072.5 336.9,1077.5 338.8,1074.4 340.8,1073.5 342.7,1069.9 344.6,1068.4 345.0,1070.0 346.6,1069.3 348.5,1075.1 350.4,1074.0 352.4,1076.8 354.3,1076.1 355.0,1075.0 356.2,1074.6 358.2,1070.3 360.1,1079.7 362.1,1077.3 364.0,1075.6 365.0,1077.5 365.9,1073.7 367.9,1079.0 369.8,1073.8 371.8,1077.0 373.7,1072.2 375.0,1073.8 375.6,1073.3 377.6,1075.9 379.5,1079.6 381.4,1078.2 383.4,1074.1 385.0,1076.2 385.3,1074.6 387.2,1080.4 389.2,1076.3 391.1,1076.1 393.1,1084.6 395.0,1079.3 396.9,1075.8 398.9,1082.8 400.8,1079.1 402.8,1081.9 404.7,1080.4 405.0,1082.5 406.6,1084.0 408.6,1082.7 410.5,1082.0 412.4,1082.1 414.4,1082.3 415.0,1080.0 416.3,1081.8 418.2,1083.8 420.2,1083.6 422.1,1080.6 424.1,1087.5 425.0,1082.5 426.0,1080.6 427.9,1078.7 429.9,1082.4 431.8,1082.8 433.8,1079.9 435.0,1080.0 435.7,1076.7 437.6,1079.5 439.6,1080.3 441.5,1082.2 443.4,1079.1 445.4,1078.1 447.3,1075.1 449.2,1077.4 450.0,1077.5 451.2,1074.2 453.1,1078.9 455.1,1079.5 457.0,1077.9 458.9,1076.6 460.9,1077.7 462.8,1073.6 464.8,1073.4 465.0,1075.0 466.7,1073.6 468.6,1074.6 470.6,1071.6 472.5,1074.2 474.4,1070.7 476.4,1072.2 478.3,1066.4 480.0,1068.8 480.2,1066.4 482.2,1065.6 484.1,1067.3 486.1,1065.6 488.0,1065.2 489.9,1061.5 490.0,1065.0 491.9,1064.0 493.8,1058.6 495.8,1063.9 497.7,1060.0 499.6,1059.0 500.0,1060.0 501.6,1056.0 503.5,1054.9 505.0,1050.0 505.4,1052.8 507.4,1056.4 509.3,1055.9 510.0,1052.5 511.2,1047.2 513.2,1040.3 515.0,1035.0 515.1,1032.7 517.1,1039.8 519.0,1041.7 520.0,1042.5 520.9,1041.7 522.9,1044.5 524.8,1033.8 526.8,1033.5 527.5,1032.5 528.7,1026.4 530.6,1029.4 532.6,1021.9 534.5,1020.4 535.0,1020.0 536.4,1023.2 538.4,1012.6 540.3,1008.2 542.2,1001.6 542.5,1005.0 544.2,1001.4 546.1,987.2 547.5,987.5 548.1,984.8 550.0,980.2 551.9,972.7 552.5,972.5 553.9,971.2 555.8,964.5 557.5,960.0 557.8,954.5 559.0,954.0 559.7,948.3 561.6,941.7 563.6,926.6 564.0,930.0 565.5,919.2 567.4,911.1 568.0,900.0 569.4,885.6 571.3,875.4 572.0,870.0 573.2,862.7 575.2,852.1 577.0,840.0 577.1,837.1 579.1,820.9 580.0,810.0 581.0,799.8 582.9,798.8 584.0,790.0 584.9,782.8 586.8,763.5 587.0,760.0 588.8,740.3 590.0,730.0 590.7,712.8 592.0,678.0 592.6,697.3 594.0,710.0 594.6,702.6 596.5,685.1 597.0,670.0 598.4,653.8 600.0,648.0 600.4,630.2 602.0,630.0 602.3,617.2 603.0,593.0 604.0,580.0 604.2,583.8 606.2,576.7 608.1,578.7 610.1,582.5 612.0,564.8 613.9,574.7 615.9,585.4 617.8,577.7 619.8,595.7 621.7,584.4 623.6,571.3 625.6,584.2 627.5,579.2 629.4,588.5 631.4,574.6 633.3,579.4 635.2,580.3 637.2,573.6 639.1,568.6 641.1,574.6 643.0,592.6 644.9,577.5 646.9,578.4 648.8,588.5 650.8,591.8 652.7,583.3 654.6,582.5 656.6,580.8 658.5,585.6 660.4,579.3 662.4,578.3 664.3,582.5 666.2,577.7 668.2,584.6 670.1,591.6 672.1,580.5 674.0,574.1 675.9,564.3 677.9,595.6 679.8,584.0 681.8,586.7 683.7,578.5 685.6,586.7 687.6,579.5 689.5,573.4 691.4,585.8 693.4,580.9 695.3,568.9 697.2,574.1 699.2,592.0 701.1,565.6 703.1,585.3 705.0,578.2 706.9,583.3 708.9,583.6 710.8,585.3 712.8,575.9 714.7,585.9 716.6,589.3 718.6,584.4 720.0,580.0 720.5,607.5 721.0,630.0 722.4,615.2 723.0,602.0 724.4,591.3 725.0,600.0 726.3,607.1 727.0,616.0 728.2,647.1 728.2,1112.8 728.0,1112.0 726.3,1109.2 724.4,1113.9 722.4,1112.6 720.5,1110.3 720.0,1108.0 718.6,1109.1 716.6,1107.4 714.7,1104.0 712.8,1103.0 710.8,1104.7 708.9,1105.5 708.0,1106.0 706.9,1104.7 705.0,1105.3 703.1,1103.7 701.1,1104.5 699.2,1102.1 697.2,1097.7 696.0,1100.0 695.3,1096.4 693.4,1097.0 691.4,1096.2 689.5,1094.4 687.6,1093.7 685.6,1098.5 684.0,1094.0 683.7,1093.6 681.8,1093.6 679.8,1096.9 677.9,1095.2 675.9,1095.7 674.0,1096.8 672.1,1096.8 672.0,1096.0 670.1,1095.7 668.2,1094.2 666.2,1092.4 664.3,1095.3 662.4,1092.5 660.4,1096.4 660.0,1092.0 658.5,1091.7 656.6,1097.0 654.6,1093.4 652.7,1094.9 650.8,1092.6 648.8,1095.0 648.0,1096.0 646.9,1096.8 644.9,1096.8 643.0,1099.8 641.1,1095.2 639.1,1095.5 637.2,1091.4 636.0,1094.0 635.2,1097.0 633.3,1096.9 631.4,1099.8 629.4,1096.1 627.5,1096.8 625.6,1098.1 624.0,1098.0 623.6,1101.5 621.7,1097.8 619.8,1102.4 617.8,1104.5 615.9,1100.8 613.9,1100.6 612.0,1102.7 610.1,1103.7 608.1,1101.7 606.2,1105.7 604.2,1106.5 602.3,1103.6 600.4,1108.3 600.0,1108.0 598.4,1111.0 596.5,1108.9 594.6,1110.7 592.6,1115.6 592.0,1116.0 590.7,1114.1 588.8,1117.1 586.8,1119.8 584.9,1121.5 582.9,1122.8 581.0,1123.7 580.0,1124.0 579.1,1125.9 577.1,1125.0 575.2,1127.6 573.2,1125.3 571.3,1130.2 570.0,1130.0 569.4,1131.3 567.4,1131.0 565.5,1132.4 563.6,1133.7 561.6,1133.0 560.0,1134.0 559.7,1134.5 557.8,1134.5 555.8,1135.7 553.9,1136.6 551.9,1136.2 550.0,1135.3 548.1,1138.4 546.1,1138.1 545.0,1137.5 544.2,1138.6 542.2,1137.3 540.3,1138.3 538.4,1139.8 536.4,1137.8 534.5,1139.7 532.6,1139.8 530.6,1140.2 528.7,1139.9 526.8,1140.2 524.8,1140.9 522.9,1140.9 520.9,1140.9 520.0,1141.2 519.0,1141.5 517.1,1141.7 515.1,1141.7 513.2,1141.2 511.2,1141.5 509.3,1141.0 507.4,1141.0 505.4,1141.9 503.5,1141.6 501.6,1141.3 499.6,1141.9 497.7,1142.3 495.8,1141.7 493.8,1140.6 491.9,1141.4 489.9,1141.7 488.0,1141.8 486.1,1141.4 484.1,1141.3 482.2,1142.3 480.2,1142.0 478.3,1141.0 476.4,1142.3 474.4,1141.7 472.5,1141.4 470.6,1141.5 468.6,1141.5 466.7,1141.9 464.8,1141.9 462.8,1141.1 460.9,1142.5 458.9,1141.4 457.0,1142.2 455.1,1142.6 453.1,1142.2 451.2,1142.5 449.2,1142.6 447.3,1141.7 445.4,1143.2 443.4,1143.0 441.5,1142.2 440.0,1142.5 439.6,1142.4 437.6,1143.6 435.7,1142.5 433.8,1142.8 431.8,1142.6 429.9,1142.2 427.9,1142.4 426.0,1142.3 424.1,1143.0 422.1,1142.5 420.2,1141.9 418.2,1142.5 416.3,1142.9 414.4,1143.1 412.4,1141.8 410.5,1142.7 408.6,1141.9 406.6,1143.2 404.7,1143.5 402.8,1142.9 400.8,1141.6 398.9,1141.8 396.9,1143.0 395.0,1142.1 393.1,1142.8 391.1,1142.0 389.2,1142.7 387.2,1142.8 385.3,1142.0 383.4,1142.6 381.4,1143.0 379.5,1143.4 377.6,1142.0 375.6,1141.7 373.7,1142.8 371.8,1142.0 369.8,1142.6 367.9,1142.7 365.9,1141.2 364.0,1142.8 362.1,1141.4 360.1,1141.8 358.2,1142.7 356.2,1141.7 354.3,1142.6 352.4,1141.0 350.4,1142.2 348.5,1141.8 346.6,1142.0 344.6,1141.6 342.7,1141.8 340.8,1141.8 338.8,1141.8 336.9,1141.4 334.9,1141.8 333.0,1142.4 331.1,1141.5 330.0,1142.0 329.1,1141.5 327.2,1142.3 325.2,1141.9 323.3,1141.4 321.4,1142.1 319.4,1141.9 317.5,1141.2 315.6,1142.1 313.6,1142.0 311.7,1141.6 309.8,1141.7 307.8,1142.5 305.9,1141.9 303.9,1141.3 302.0,1141.3 300.1,1142.4 298.1,1141.2 296.2,1141.9 294.2,1140.8 292.3,1141.9 290.4,1141.5 290.0,1141.2 288.4,1140.8 286.5,1141.1 284.6,1140.2 282.6,1140.9 280.7,1140.9 278.8,1140.1 276.8,1140.2 274.9,1139.8 272.9,1139.6 271.0,1138.8 269.1,1139.6 267.1,1138.7 265.2,1140.5 265.0,1138.8 263.2,1138.1 261.3,1137.8 259.4,1138.6 257.4,1135.4 255.5,1135.3 253.6,1135.6 251.6,1134.1 249.7,1134.3 247.8,1132.9 247.5,1133.5 245.8,1132.9 243.9,1133.1 241.9,1132.0 240.0,1132.1 238.1,1132.1 236.1,1128.2 235.0,1130.0 234.2,1130.5 232.2,1127.5 230.3,1131.1 228.4,1128.6 226.4,1128.6 224.5,1126.9 222.6,1125.7 222.5,1127.5 220.6,1125.5 218.7,1126.0 216.8,1125.1 214.8,1125.0 212.9,1124.8 210.9,1123.8 210.0,1122.5 209.0,1121.3 207.1,1120.5 205.1,1118.1 203.2,1118.0 201.2,1119.2 200.0,1117.5 199.3,1117.7 197.4,1114.9 195.4,1114.1 193.5,1115.6 191.6,1112.2 190.0,1111.2 189.6,1108.2 187.7,1110.6 185.8,1112.1 183.8,1112.0 182.5,1110.0 181.9,1107.9 179.9,1110.3 178.0,1112.8 176.1,1111.5 174.1,1112.4 172.2,1114.4 170.2,1112.4 168.3,1113.0 167.5,1112.5 166.4,1111.7 164.4,1113.0 162.5,1111.8 160.6,1116.0 158.6,1113.1 156.7,1114.0 155.0,1116.2 154.8,1118.6 152.8,1119.2 150.9,1121.2 148.9,1120.4 147.0,1123.7 145.1,1124.9 145.0,1125.0 143.1,1128.5 141.2,1130.0 139.2,1131.5 137.3,1130.3 135.4,1133.3 133.4,1137.7 131.5,1139.0 130.0,1140.0 129.6,1139.7 127.6,1140.7 125.7,1141.0 123.8,1142.0 122.0,1142.0 121.8,1141.5 119.9,1143.2 117.9,1143.3 116.0,1143.7 115.0,1144.0 114.1,1144.2 112.1,1143.8 110.2,1144.2 108.2,1144.0 106.3,1144.5 104.4,1145.3 102.4,1145.0 100.5,1145.0 100.0,1145.0" fill="#1f77b4" fill-opacity="0.1" stroke="#1f77b4" stroke-opacity="0.1" stroke-width="1.39" stroke-linejoin="round"/>
<polygon points="104.0,1145.0 104.4,1144.4 106.3,1143.5 108.2,1141.3 110.2,1139.5 112.0,1138.0 112.1,1137.9 114.1,1133.2 116.0,1129.3 117.9,1123.7 119.9,1119.3 120.0,1120.0 121.8,1113.1 123.8,1108.9 125.0,1102.5 125.7,1099.7 127.6,1087.5 129.6,1073.5 130.0,1072.5 131.5,1060.9 133.4,1047.1 135.0,1035.0 135.4,1029.6 137.3,1012.4 138.8,997.5 139.2,990.0 141.2,978.0 142.5,970.0 143.1,961.3 145.1,944.9 146.2,930.0 147.0,919.1 148.9,897.0 150.0,892.5 150.9,886.8 152.8,877.7 153.8,862.5 154.8,857.1 156.0,855.0 156.7,842.6 158.6,829.6 158.8,825.0 160.6,819.5 162.5,814.2 164.4,805.2 165.0,795.0 166.4,792.8 168.3,793.5 170.0,790.0 170.2,791.8 172.2,790.5 172.5,786.0 174.1,779.3 176.1,778.2 177.0,777.5 178.0,781.6 179.9,786.3 180.0,787.0 181.9,779.3 183.2,773.8 183.8,778.1 185.8,779.9 186.5,785.0 187.7,786.8 189.6,790.5 190.0,790.0 191.6,795.9 193.5,795.6 194.0,806.0 195.4,808.1 197.0,798.0 197.4,801.3 199.0,816.0 199.3,820.1 201.2,831.2 203.2,838.1 204.0,836.0 205.1,832.2 207.0,840.0 207.1,832.3 209.0,849.8 210.0,860.0 210.9,864.0 212.9,876.9 214.0,888.0 214.8,892.1 216.0,884.0 216.8,890.1 218.7,890.8 220.0,898.0 220.6,906.5 222.6,907.7 224.0,916.0 224.5,914.1 226.4,926.1 228.0,932.0 228.4,932.7 230.3,943.1 232.2,946.1 233.0,954.0 234.2,948.5 236.1,950.0 237.0,950.0 238.1,957.9 240.0,966.0 241.9,969.2 243.9,980.3 244.0,980.0 245.8,987.0 247.8,999.3 248.0,996.0 249.7,998.3 250.0,1000.0 251.6,1006.2 253.6,1003.0 255.5,1010.1 257.4,1017.5 257.5,1015.0 259.4,1023.4 261.3,1028.1 263.2,1032.9 265.0,1032.5 265.2,1032.1 267.1,1035.3 269.1,1041.0 271.0,1042.5 272.5,1047.5 272.9,1050.8 274.9,1053.3 276.8,1054.3 278.8,1056.7 280.0,1060.0 280.7,1063.7 282.6,1067.3 284.6,1062.4 286.5,1069.3 287.5,1070.0 288.4,1071.0 290.4,1075.5 292.3,1072.4 294.2,1076.0 295.0,1077.5 296.2,1077.4 298.1,1081.6 300.1,1081.5 302.0,1081.2 303.9,1085.4 305.0,1085.0 305.9,1083.6 307.8,1088.5 309.8,1088.0 311.7,1088.1 313.6,1087.9 315.0,1090.0 315.6,1091.3 317.5,1089.7 319.4,1091.9 321.4,1090.7 323.3,1091.2 325.2,1092.4 327.2,1091.2 327.5,1092.5 329.1,1095.0 331.1,1092.8 333.0,1094.5 334.9,1095.2 336.9,1095.2 338.8,1094.2 340.0,1096.2 340.8,1096.9 342.7,1098.7 344.6,1097.5 346.6,1097.6 348.5,1099.4 350.4,1098.8 352.4,1098.1 352.5,1098.8 354.3,1099.4 356.2,1096.3 358.2,1097.9 360.1,1098.3 362.1,1098.9 364.0,1099.8 365.0,1100.0 365.9,1100.1 367.9,1100.0 369.8,1100.0 371.8,1098.1 373.7,1097.6 375.6,1099.7 377.6,1099.2 379.5,1101.7 381.4,1103.6 383.4,1101.0 385.3,1100.6 387.2,1099.1 389.2,1098.1 390.0,1101.2 391.1,1099.4 393.1,1099.8 395.0,1101.1 396.9,1100.4 398.9,1101.1 400.8,1099.6 402.8,1103.3 404.7,1105.0 406.6,1101.8 408.6,1100.8 410.5,1100.7 412.4,1103.1 414.4,1101.6 415.0,1102.5 416.3,1101.3 418.2,1103.1 420.2,1103.4 422.1,1100.4 424.1,1103.3 426.0,1103.4 427.9,1100.0 429.9,1100.8 431.8,1103.9 433.8,1098.9 435.7,1102.1 437.6,1100.8 439.6,1100.1 440.0,1100.0 441.5,1098.8 443.4,1096.0 445.0,1096.2 445.4,1095.3 447.3,1097.8 449.2,1095.3 451.2,1095.8 453.1,1096.0 455.1,1093.7 457.0,1092.2 458.9,1092.6 460.9,1093.5 462.8,1091.5 464.8,1093.9 466.7,1091.3 468.6,1090.6 470.0,1091.2 470.6,1091.3 472.5,1089.8 474.4,1090.0 476.4,1088.6 478.3,1086.2 480.2,1089.6 482.2,1083.6 484.1,1084.0 486.1,1083.6 488.0,1084.7 489.9,1082.9 491.9,1082.3 493.8,1079.3 495.0,1080.0 495.8,1077.6 497.7,1078.5 499.6,1081.1 501.6,1078.3 503.5,1076.3 505.4,1074.1 507.4,1076.4 509.3,1073.1 511.2,1071.7 513.2,1071.9 515.0,1070.0 515.1,1065.9 517.1,1068.6 519.0,1063.6 520.9,1065.5 522.9,1066.0 524.8,1062.4 526.8,1062.9 528.7,1060.9 530.0,1060.0 530.6,1058.5 532.6,1057.9 534.5,1052.1 536.4,1051.7 538.4,1050.3 540.0,1047.5 540.3,1046.9 542.2,1044.3 544.2,1041.8 546.1,1032.7 548.1,1033.7 550.0,1028.0 551.9,1021.4 553.9,1018.7 555.8,1013.0 557.5,1010.0 557.8,1006.8 559.7,1000.9 561.6,994.3 562.5,992.5 563.6,990.0 565.5,982.9 566.0,980.0 567.4,972.3 569.4,959.4 570.0,960.0 571.3,955.2 573.2,946.6 574.0,940.0 575.2,930.9 577.1,925.4 578.0,920.0 579.1,919.6 581.0,899.5 582.0,892.0 582.9,890.3 584.0,884.0 584.9,877.2 586.8,867.5 588.0,860.0 588.8,856.1 590.7,839.1 592.6,824.5 593.0,820.0 594.0,838.0 594.6,822.3 596.0,800.0 596.5,798.4 598.4,789.2 599.0,785.0 600.4,776.7 602.3,770.1 604.0,760.0 604.2,756.7 606.2,745.3 608.0,730.0 608.1,729.9 610.0,698.0 610.1,703.9 612.0,708.8 613.0,708.0 613.9,692.6 615.9,671.8 616.0,670.0 617.8,663.5 619.0,648.0 619.8,641.7 621.0,652.0 621.7,644.2 623.6,620.5 624.0,614.0 625.6,602.5 627.0,608.0 627.5,613.4 629.0,612.0 629.4,606.5 631.4,613.8 632.0,602.0 633.3,591.8 634.0,594.0 635.2,601.3 637.2,597.2 638.0,598.0 639.1,592.9 640.0,592.0 641.1,603.4 642.4,616.0 643.0,608.0 644.9,597.2 645.0,592.0 646.9,589.3 648.8,596.2 650.0,588.0 650.8,600.9 652.7,598.4 654.6,600.4 656.0,604.0 656.6,599.6 658.0,592.0 658.5,588.0 660.4,590.2 662.4,593.5 664.3,583.5 665.0,590.0 666.2,583.1 668.2,586.8 670.0,593.0 670.1,596.6 672.0,618.0 672.1,619.4 674.0,606.9 675.9,601.3 677.0,596.0 677.9,597.0 679.8,615.6 680.0,624.0 681.8,623.9 683.7,616.4 685.0,610.0 685.6,620.2 687.6,639.9 688.0,640.0 689.5,636.9 691.4,634.4 693.0,635.0 693.4,636.1 695.3,641.9 696.0,656.0 697.2,657.0 699.2,644.2 700.0,654.0 701.1,661.1 703.1,662.1 704.0,670.0 705.0,676.4 706.9,680.0 708.0,690.0 708.9,700.5 710.8,700.2 712.8,709.0 713.0,714.0 714.7,713.6 716.6,705.5 717.0,710.0 718.6,716.6 720.0,730.0 720.5,737.4 722.4,756.4 723.0,760.0 724.4,754.4 726.0,750.0 726.3,762.9 728.0,785.0 728.2,781.7 728.2,1080.7 728.0,1080.0 726.3,1079.2 724.4,1082.9 722.4,1078.8 720.5,1077.5 720.0,1078.0 718.6,1076.0 716.6,1075.0 716.0,1074.0 714.7,1071.6 712.8,1073.8 710.8,1070.8 708.9,1066.1 708.0,1068.0 706.9,1069.2 705.0,1065.9 703.1,1061.3 701.1,1061.2 700.0,1060.0 699.2,1062.1 697.2,1056.9 695.3,1059.6 693.4,1061.1 691.4,1056.0 689.5,1054.7 688.0,1056.0 687.6,1056.6 685.6,1056.4 683.7,1053.4 681.8,1055.7 680.0,1052.0 679.8,1052.9 677.9,1048.6 675.9,1043.4 674.0,1045.0 672.1,1049.3 670.1,1047.4 668.2,1048.3 666.2,1049.7 664.3,1053.8 664.0,1050.0 662.4,1050.2 660.4,1048.1 658.5,1050.7 656.6,1050.5 654.6,1049.3 654.0,1049.0 652.7,1047.5 650.8,1049.0 648.8,1047.5 646.9,1044.1 644.9,1049.2 644.0,1046.0 643.0,1044.6 641.1,1046.7 639.1,1048.5 637.2,1051.7 635.2,1048.0 633.3,1047.2 632.0,1048.0 631.4,1050.0 629.4,1047.0 627.5,1047.0 625.6,1049.1 624.0,1050.0 623.6,1050.2 621.7,1056.3 619.8,1057.2 617.8,1057.8 616.0,1060.0 615.9,1058.0 613.9,1061.5 612.0,1064.6 610.1,1066.4 608.1,1066.6 608.0,1068.0 606.2,1067.3 604.2,1072.0 602.3,1076.1 600.4,1074.6 600.0,1076.0 598.4,1077.1 596.5,1080.6 594.6,1079.1 592.6,1085.0 592.0,1086.0 590.7,1088.2 588.8,1087.5 586.8,1094.3 584.9,1094.1 584.0,1098.0 582.9,1099.6 581.0,1101.0 579.1,1104.1 577.1,1104.0 575.2,1105.4 573.2,1110.7 572.0,1110.0 571.3,1109.9 569.4,1110.0 567.4,1111.2 565.5,1112.6 563.6,1113.8 561.6,1115.6 560.0,1117.0 559.7,1116.0 557.8,1116.2 555.8,1118.6 553.9,1121.2 551.9,1122.9 550.0,1123.9 548.1,1125.3 546.1,1126.6 545.0,1127.5 544.2,1128.4 542.2,1129.1 540.3,1128.9 538.4,1130.7 536.4,1129.6 534.5,1129.8 532.6,1130.9 530.6,1130.4 528.7,1133.4 526.8,1133.7 524.8,1133.9 522.9,1134.7 520.9,1135.0 520.0,1135.0 519.0,1135.0 517.1,1134.2 515.1,1135.8 513.2,1134.8 511.2,1135.6 509.3,1134.7 507.4,1135.5 505.4,1136.4 503.5,1136.5 501.6,1136.6 499.6,1136.9 497.7,1136.7 495.8,1137.9 495.0,1137.5 493.8,1138.7 491.9,1136.7 489.9,1137.6 488.0,1138.2 486.1,1137.3 484.1,1137.0 482.2,1136.8 480.2,1138.1 478.3,1137.8 476.4,1137.1 474.4,1138.5 472.5,1138.7 470.6,1137.8 468.6,1137.9 466.7,1137.5 464.8,1138.5 462.8,1137.0 460.9,1137.5 458.9,1138.5 457.0,1138.1 455.1,1137.7 453.1,1138.5 451.2,1138.3 449.2,1139.1 447.3,1138.3 445.4,1139.6 443.4,1138.8 441.5,1137.9 440.0,1138.8 439.6,1138.8 437.6,1138.9 435.7,1138.1 433.8,1139.7 431.8,1139.5 429.9,1138.8 427.9,1138.8 426.0,1139.3 424.1,1138.7 422.1,1138.8 420.2,1138.9 418.2,1138.2 416.3,1138.8 414.4,1138.4 412.4,1138.6 410.5,1138.4 408.6,1138.8 406.6,1138.8 404.7,1138.2 402.8,1137.7 400.8,1138.7 398.9,1137.7 396.9,1138.6 395.0,1138.6 393.1,1137.4 391.1,1138.5 389.2,1138.5 387.2,1138.5 385.3,1139.2 383.4,1138.3 381.4,1138.5 379.5,1138.3 377.6,1138.7 375.6,1137.3 373.7,1137.7 371.8,1137.7 369.8,1139.1 367.9,1137.9 365.9,1137.5 364.0,1137.3 362.1,1137.7 360.1,1138.8 358.2,1137.7 356.2,1137.5 354.3,1137.9 352.4,1138.0 350.4,1137.7 348.5,1137.6 346.6,1137.5 344.6,1137.9 342.7,1137.2 340.8,1138.4 338.8,1136.7 336.9,1137.6 334.9,1138.0 333.0,1137.5 331.1,1137.2 329.1,1138.0 327.2,1137.4 325.2,1137.1 323.3,1137.8 321.4,1138.2 319.4,1137.5 317.5,1137.2 315.6,1138.3 315.0,1137.5 313.6,1138.1 311.7,1137.2 309.8,1136.0 307.8,1136.5 305.9,1136.8 303.9,1136.7 302.0,1136.6 300.1,1135.6 298.1,1135.8 296.2,1134.5 294.2,1135.5 292.3,1134.7 290.4,1135.1 290.0,1135.0 288.4,1134.4 286.5,1134.9 284.6,1132.7 282.6,1135.1 280.7,1132.2 278.8,1132.5 276.8,1133.3 274.9,1132.1 272.9,1131.5 271.0,1130.4 269.1,1130.2 267.1,1129.5 265.2,1131.1 265.0,1130.0 263.2,1129.9 261.3,1127.3 259.4,1127.5 257.4,1126.6 255.5,1125.9 253.6,1125.3 251.6,1123.6 249.7,1123.4 247.8,1123.6 247.5,1122.0 245.8,1122.2 243.9,1121.4 241.9,1120.7 240.0,1121.1 238.1,1119.5 236.1,1117.4 235.0,1117.0 234.2,1115.6 232.2,1116.9 230.3,1115.7 228.4,1115.2 226.4,1116.1 224.5,1111.8 222.6,1111.2 222.5,1112.5 220.6,1110.3 218.7,1108.2 216.8,1106.8 214.8,1105.8 212.9,1105.5 210.9,1103.9 210.0,1102.5 209.0,1103.7 207.1,1099.9 205.1,1096.3 203.2,1098.9 201.2,1095.3 200.0,1095.0 199.3,1093.8 197.4,1089.7 195.4,1090.2 193.5,1085.3 191.6,1083.6 190.0,1082.5 189.6,1080.7 187.7,1082.5 185.8,1081.8 183.8,1082.9 182.5,1081.2 181.9,1081.7 179.9,1082.4 178.0,1082.4 176.1,1080.7 174.1,1081.2 172.2,1080.7 170.2,1082.3 170.0,1080.0 168.3,1082.6 166.4,1084.8 164.4,1087.0 162.5,1085.4 160.6,1091.0 160.0,1090.0 158.6,1091.6 156.7,1090.1 154.8,1095.7 152.8,1098.4 150.9,1097.9 148.9,1101.7 147.5,1102.5 147.0,1102.2 145.1,1105.9 143.1,1106.7 141.2,1111.8 139.2,1115.7 137.3,1115.0 135.4,1120.0 135.0,1120.0 133.4,1123.6 131.5,1125.6 129.6,1127.5 127.6,1130.4 125.7,1134.6 123.8,1137.7 122.5,1140.0 121.8,1140.3 119.9,1141.1 117.9,1141.8 116.0,1142.6 115.0,1143.0 114.1,1143.3 112.1,1143.5 110.2,1143.8 108.2,1144.5 106.3,1144.8 104.4,1144.9 104.0,1145.0" fill="#1f77b4" fill-opacity="0.1" stroke="#1f77b4" stroke-opacity="0.1" stroke-width="1.39" stroke-linejoin="round"/>
<polygon points="108.0,1145.0 108.2,1144.6 110.2,1142.2 112.1,1139.4 114.1,1136.6 116.0,1134.9 117.9,1132.8 119.9,1130.9 120.0,1130.0 121.8,1126.3 123.8,1118.9 125.7,1114.1 127.5,1110.0 127.6,1109.0 129.6,1102.6 131.5,1095.1 132.5,1090.0 133.4,1085.5 135.4,1072.5 137.3,1061.4 137.5,1060.0 139.2,1046.5 141.2,1030.1 142.5,1022.5 143.1,1018.8 145.1,1004.0 146.2,992.5 147.0,988.4 148.9,981.6 150.9,968.6 151.2,965.0 152.8,955.9 154.8,940.4 155.0,940.0 156.7,931.1 158.6,919.3 158.8,917.5 160.6,914.6 162.5,904.9 164.4,898.9 166.2,892.5 166.4,894.6 168.3,887.3 170.0,887.5 170.2,886.4 172.2,886.5 173.8,882.5 174.1,886.0 176.1,889.5 177.5,887.5 178.0,889.9 179.9,895.2 181.9,899.0 182.5,897.5 183.8,896.0 185.8,894.5 186.2,890.0 187.7,895.3 189.6,893.1 191.2,895.0 191.6,894.7 193.5,902.4 194.0,904.0 195.4,908.1 197.4,914.7 199.3,915.4 200.0,920.0 201.2,923.9 203.2,929.0 205.1,935.2 206.0,936.0 207.1,935.4 209.0,940.3 210.9,947.1 212.0,950.0 212.9,950.8 214.8,957.9 216.8,958.5 218.0,964.0 218.7,968.8 220.6,968.3 222.0,972.0 222.6,973.3 224.5,978.5 226.0,984.0 226.4,984.5 228.4,986.6 230.0,992.0 230.3,995.9 232.2,996.8 234.0,1000.0 234.2,997.3 236.1,1004.7 238.1,1011.1 240.0,1017.8 241.9,1025.8 243.9,1030.2 245.8,1034.1 247.8,1038.7 249.7,1044.8 250.0,1045.0 251.6,1048.2 253.6,1054.9 255.5,1059.4 257.4,1064.9 259.4,1067.1 260.0,1070.0 261.3,1072.0 263.2,1075.7 265.2,1082.7 267.1,1084.9 269.1,1087.1 270.0,1090.0 271.0,1091.7 272.9,1093.1 274.9,1093.7 276.8,1096.3 278.8,1099.5 280.0,1100.0 280.7,1101.8 282.6,1101.1 284.6,1104.2 286.5,1103.9 288.4,1103.8 290.0,1105.0 290.4,1105.5 292.3,1106.1 294.2,1106.2 296.2,1108.7 298.1,1108.3 300.1,1109.2 302.0,1109.8 302.5,1110.0 303.9,1110.0 305.9,1111.4 307.8,1111.2 309.8,1112.2 311.7,1110.4 313.6,1112.3 315.0,1112.5 315.6,1113.1 317.5,1113.1 319.4,1111.9 321.4,1113.5 323.3,1113.1 325.2,1112.7 327.2,1114.1 329.1,1114.5 331.1,1114.4 333.0,1113.6 334.9,1114.3 336.9,1113.8 338.8,1115.2 340.0,1115.0 340.8,1116.0 342.7,1115.4 344.6,1115.7 346.6,1115.5 348.5,1116.2 350.4,1116.1 352.4,1115.9 354.3,1115.1 356.2,1116.1 358.2,1116.4 360.1,1115.3 362.1,1115.2 364.0,1116.5 365.0,1116.2 365.9,1117.6 367.9,1117.4 369.8,1116.3 371.8,1115.2 373.7,1114.9 375.6,1115.6 377.6,1116.6 379.5,1115.8 381.4,1117.2 383.4,1116.2 385.3,1117.0 387.2,1116.1 389.2,1115.0 390.0,1116.0 391.1,1115.9 393.1,1115.8 395.0,1117.3 396.9,1116.6 398.9,1115.0 400.8,1115.2 402.8,1115.5 404.7,1115.7 406.6,1114.9 408.6,1116.3 410.5,1116.2 412.4,1114.4 414.4,1116.7 415.0,1116.0 416.3,1116.2 418.2,1114.7 420.2,1115.9 422.1,1115.8 424.1,1115.6 426.0,1114.6 427.9,1115.8 429.9,1116.0 431.8,1114.8 433.8,1114.8 435.7,1114.0 437.6,1114.5 439.6,1114.6 440.0,1114.0 441.5,1112.9 443.4,1111.4 445.0,1111.2 445.4,1112.7 447.3,1111.1 449.2,1110.9 451.2,1110.8 453.1,1110.1 455.1,1110.5 457.0,1109.2 458.9,1110.2 460.9,1108.6 462.8,1110.4 464.8,1111.1 466.7,1109.9 468.6,1107.1 470.0,1108.8 470.6,1108.8 472.5,1108.0 474.4,1108.1 476.4,1107.0 478.3,1106.6 480.2,1104.5 482.2,1104.8 484.1,1105.1 486.1,1104.2 488.0,1103.8 489.9,1104.8 491.9,1102.4 493.8,1103.4 495.0,1102.5 495.8,1102.1 497.7,1100.7 499.6,1099.4 501.6,1099.4 503.5,1099.6 505.4,1098.7 507.4,1097.1 509.3,1097.2 511.2,1096.4 513.2,1095.4 515.1,1094.9 517.1,1093.2 519.0,1093.4 520.0,1092.5 520.9,1092.7 522.9,1092.4 524.8,1088.6 526.8,1087.1 528.7,1087.3 530.6,1084.6 532.6,1083.9 534.5,1084.1 535.0,1082.5 536.4,1083.1 538.4,1078.7 540.3,1075.6 542.2,1075.4 544.2,1070.0 546.1,1070.3 548.1,1065.8 550.0,1065.3 551.9,1060.3 553.9,1057.4 555.8,1050.5 557.8,1049.0 559.7,1044.3 560.0,1045.0 561.6,1039.9 563.6,1034.7 565.5,1028.0 567.4,1021.2 567.5,1022.5 569.4,1015.4 571.3,1010.0 573.2,1002.2 575.0,997.5 575.2,996.7 577.1,991.5 579.1,980.4 580.0,975.0 581.0,975.0 582.9,969.7 584.9,961.1 586.0,960.0 586.8,953.9 588.8,944.0 590.0,940.0 590.7,935.0 592.6,926.3 594.0,920.0 594.6,918.6 596.5,900.3 597.0,896.0 598.4,886.5 600.0,880.0 600.4,878.8 602.3,866.5 604.0,860.0 604.2,861.3 606.2,846.3 608.0,840.0 608.1,839.0 610.1,835.6 612.0,829.3 613.9,811.2 615.9,796.5 616.0,800.0 617.8,795.2 619.0,790.0 619.8,786.5 621.7,779.0 623.6,771.5 624.0,770.0 625.6,771.3 627.0,778.0 627.5,773.3 629.4,765.9 630.0,756.0 631.4,753.3 633.0,750.0 633.3,743.8 635.0,744.0 635.2,744.7 637.2,745.4 638.0,750.0 639.1,753.7 640.0,754.0 641.1,753.4 642.0,744.0 643.0,742.1 644.9,736.2 645.0,740.0 646.9,727.9 648.0,726.0 648.8,726.4 650.8,745.2 651.0,746.0 652.7,744.0 654.6,745.1 656.0,744.0 656.6,749.4 658.5,745.5 660.0,748.0 660.4,747.2 662.4,752.4 664.0,754.0 664.3,759.4 666.2,752.3 668.0,748.0 668.2,745.4 670.1,748.8 672.0,744.0 672.1,744.4 674.0,740.3 675.9,744.7 676.0,745.0 677.9,757.1 679.0,760.0 679.8,759.8 681.8,765.8 683.7,767.5 684.0,770.0 685.6,772.6 687.6,773.4 688.0,775.0 689.5,774.4 691.4,779.3 692.0,782.0 693.4,786.5 695.3,787.0 696.0,788.0 697.2,791.5 699.2,797.2 701.1,796.3 702.0,800.0 703.1,806.1 705.0,817.5 706.0,826.0 706.9,828.7 708.9,835.2 710.0,838.0 710.8,837.3 712.8,838.6 714.7,838.0 716.0,842.0 716.6,847.3 718.6,850.7 720.0,860.0 720.5,864.2 722.4,868.9 723.0,874.0 724.4,881.6 726.0,884.0 726.3,885.7 728.0,900.0 728.2,896.5 728.2,1032.3 728.0,1033.0 726.3,1031.5 724.4,1028.7 722.4,1027.6 720.5,1029.3 720.0,1026.0 718.6,1026.2 716.6,1023.7 714.7,1021.9 714.0,1022.0 712.8,1019.7 710.8,1018.7 708.9,1018.1 708.0,1018.0 706.9,1020.0 705.0,1015.6 703.1,1010.7 701.1,1011.1 700.0,1008.0 699.2,1007.1 697.2,1001.8 695.3,1001.1 693.4,997.7 691.4,994.8 690.0,992.0 689.5,989.5 687.6,989.7 685.6,989.6 684.0,990.0 683.7,989.4 681.8,988.3 679.8,986.1 677.9,980.7 676.0,980.0 675.9,979.8 674.0,979.5 672.1,979.0 670.1,976.7 668.2,979.0 668.0,977.0 666.2,976.0 664.3,974.4 662.4,978.0 660.4,976.4 660.0,975.0 658.5,978.7 656.6,982.8 656.0,982.0 654.6,981.8 652.7,979.7 650.8,977.7 650.0,976.0 648.8,977.5 646.9,978.8 644.9,977.0 644.0,980.0 643.0,979.7 641.1,984.8 639.1,980.6 637.2,983.5 636.0,984.0 635.2,985.1 633.3,985.8 631.4,984.8 629.4,985.3 628.0,986.0 627.5,983.0 625.6,985.6 623.6,989.4 621.7,992.6 620.0,992.0 619.8,990.1 617.8,1001.4 615.9,1002.8 614.0,1008.0 613.9,1008.4 612.0,1010.8 610.1,1019.3 608.1,1019.5 608.0,1020.0 606.2,1023.0 604.2,1027.4 602.3,1030.9 600.4,1034.5 600.0,1036.0 598.4,1039.5 596.5,1047.4 594.6,1049.1 592.6,1053.5 592.0,1056.0 590.7,1061.4 588.8,1062.7 586.8,1066.5 586.0,1068.0 584.9,1071.7 582.9,1071.0 581.0,1074.8 579.1,1079.6 577.1,1082.8 575.2,1085.1 575.0,1085.0 573.2,1089.0 571.3,1090.4 569.4,1090.2 567.4,1091.5 565.5,1093.8 563.6,1094.7 561.6,1098.3 560.0,1100.0 559.7,1100.3 557.8,1100.5 555.8,1103.9 553.9,1103.2 551.9,1105.6 550.0,1108.3 548.1,1109.1 546.1,1109.3 544.2,1110.8 542.2,1112.6 540.3,1114.9 540.0,1115.0 538.4,1115.6 536.4,1117.3 534.5,1117.2 532.6,1118.1 530.6,1119.1 528.7,1118.6 526.8,1121.3 524.8,1120.7 522.9,1122.9 520.9,1122.1 520.0,1122.5 519.0,1122.1 517.1,1123.7 515.1,1123.1 513.2,1123.5 511.2,1124.4 509.3,1124.6 507.4,1124.6 505.4,1125.5 503.5,1125.0 501.6,1126.1 499.6,1125.7 497.7,1126.8 495.8,1127.1 495.0,1127.5 493.8,1128.9 491.9,1127.1 489.9,1127.8 488.0,1127.8 486.1,1127.7 484.1,1128.5 482.2,1129.0 480.2,1129.2 478.3,1129.3 476.4,1129.2 474.4,1130.0 472.5,1128.9 470.6,1129.5 470.0,1130.0 468.6,1129.0 466.7,1130.9 464.8,1129.8 462.8,1129.0 460.9,1130.1 458.9,1130.2 457.0,1130.1 455.1,1130.5 453.1,1129.9 451.2,1129.6 449.2,1130.1 447.3,1129.1 445.4,1130.2 443.4,1130.2 441.5,1129.4 440.0,1130.0 439.6,1128.8 437.6,1129.9 435.7,1129.8 433.8,1130.7 431.8,1130.0 429.9,1129.8 427.9,1129.9 426.0,1130.3 424.1,1129.6 422.1,1130.2 420.2,1130.4 418.2,1129.7 416.3,1130.6 414.4,1129.6 412.4,1129.8 410.5,1129.8 408.6,1130.0 406.6,1129.8 404.7,1130.2 402.8,1129.5 400.8,1128.8 398.9,1131.2 396.9,1128.9 395.0,1129.8 393.1,1130.2 391.1,1130.0 389.2,1130.3 387.2,1129.6 385.3,1129.8 383.4,1130.6 381.4,1131.2 379.5,1131.2 377.6,1129.0 375.6,1130.1 373.7,1129.7 371.8,1130.2 369.8,1130.1 367.9,1129.5 365.9,1129.6 364.0,1130.5 362.1,1130.2 360.1,1130.6 358.2,1130.4 356.2,1130.3 354.3,1130.5 352.4,1130.2 350.4,1130.2 348.5,1129.8 346.6,1129.6 344.6,1130.8 342.7,1129.5 340.8,1128.8 340.0,1130.0 338.8,1130.2 336.9,1129.2 334.9,1129.4 333.0,1129.1 331.1,1129.9 329.1,1129.6 327.2,1129.5 325.2,1129.0 323.3,1129.1 321.4,1128.7 319.4,1128.8 317.5,1128.8 315.6,1128.8 315.0,1128.8 313.6,1129.3 311.7,1127.6 309.8,1127.9 307.8,1127.2 305.9,1127.6 303.9,1126.7 302.0,1126.7 300.1,1127.0 298.1,1126.8 296.2,1126.6 294.2,1125.9 292.3,1125.5 290.4,1125.8 290.0,1125.0 288.4,1125.9 286.5,1123.5 284.6,1123.1 282.6,1122.5 280.7,1123.2 278.8,1121.1 277.5,1121.2 276.8,1121.7 274.9,1120.1 272.9,1119.6 271.0,1117.9 269.1,1118.0 267.1,1117.2 265.2,1114.4 265.0,1115.0 263.2,1112.6 261.3,1112.5 259.4,1111.9 257.4,1109.6 255.5,1107.1 253.6,1105.5 252.5,1105.0 251.6,1104.3 249.7,1102.9 247.8,1102.8 245.8,1099.9 243.9,1097.4 241.9,1097.7 240.0,1096.8 238.1,1091.4 236.1,1086.9 235.0,1085.0 234.2,1085.2 232.2,1082.3 230.3,1079.7 228.4,1078.1 226.4,1077.2 224.5,1074.3 222.6,1073.6 222.5,1072.5 220.6,1071.6 218.7,1070.2 216.8,1068.2 214.8,1069.6 212.9,1066.5 210.9,1064.2 210.0,1065.0 209.0,1062.9 207.1,1062.0 205.1,1059.1 203.2,1056.0 201.2,1054.0 200.0,1052.5 199.3,1053.3 197.4,1049.8 195.4,1046.5 193.5,1043.2 191.6,1042.5 190.0,1040.0 189.6,1041.5 187.7,1036.2 185.8,1038.4 183.8,1033.0 182.5,1033.8 181.9,1034.2 179.9,1035.7 178.0,1036.0 176.1,1038.2 174.1,1039.5 172.5,1040.0 172.2,1041.9 170.2,1042.0 168.3,1041.5 166.4,1043.9 165.0,1045.0 164.4,1045.6 162.5,1048.1 160.6,1051.0 158.6,1056.7 156.7,1057.5 155.0,1060.0 154.8,1059.2 152.8,1063.8 150.9,1068.2 148.9,1073.1 147.0,1075.8 145.1,1078.6 145.0,1080.0 143.1,1085.9 141.2,1088.2 139.2,1094.0 137.3,1100.2 135.4,1104.5 135.0,1105.0 133.4,1107.5 131.5,1112.7 129.6,1116.9 127.6,1118.9 125.7,1123.1 125.0,1125.0 123.8,1126.9 121.8,1132.9 119.9,1136.0 118.0,1140.0 117.9,1139.4 116.0,1140.6 114.1,1142.1 112.1,1143.2 110.2,1144.0 108.2,1144.8 108.0,1145.0" fill="#1f77b4" fill-opacity="0.1" stroke="#1f77b4" stroke-opacity="0.1" stroke-width="1.39" stroke-linejoin="round"/>
<polygon points="730.2,658.7 732.1,644.0 734.0,630.0 734.1,638.9 736.0,668.6 737.9,685.4 739.0,702.0 739.9,683.7 741.8,680.7 742.0,678.0 743.8,720.5 744.0,726.0 745.7,721.4 747.6,716.0 749.0,720.0 749.6,714.7 751.5,745.7 752.0,750.0 753.4,755.2 754.0,775.0 755.4,785.8 757.3,804.7 758.0,806.0 759.2,813.9 761.2,792.9 762.0,792.0 763.1,791.1 765.1,801.9 766.0,820.0 767.0,822.2 768.9,807.7 770.0,812.0 770.9,818.8 772.8,840.1 773.0,840.0 774.8,851.2 776.7,850.7 777.0,850.0 778.6,846.0 780.0,844.0 780.6,848.3 782.5,865.5 782.5,1133.1 780.6,1131.2 778.6,1133.3 776.7,1132.7 775.0,1130.0 774.8,1129.9 772.8,1130.3 770.9,1128.2 768.9,1130.6 767.0,1130.3 765.1,1127.7 763.1,1126.8 762.5,1127.5 761.2,1125.9 759.2,1126.9 757.3,1128.0 755.4,1124.5 753.4,1122.8 751.5,1125.4 750.0,1125.0 749.6,1125.6 747.6,1124.8 745.7,1124.3 743.8,1121.6 741.8,1123.9 740.0,1122.5 739.9,1124.4 737.9,1119.8 736.0,1117.5 734.1,1116.5 732.1,1115.8 730.2,1116.3" fill="#1f77b4" fill-opacity="0.1" stroke="#1f77b4" stroke-opacity="0.1" stroke-width="1.39" stroke-linejoin="round"/>
<polygon points="730.2,782.7 731.0,780.0 732.1,788.5 734.0,800.0 734.1,799.2 736.0,818.6 737.9,817.0 738.0,824.0 739.9,821.0 741.0,816.0 741.8,825.9 743.8,840.5 744.0,840.0 745.7,846.2 747.6,854.2 749.0,856.0 749.6,861.3 751.5,868.4 752.0,872.0 753.4,877.8 755.4,887.6 756.0,892.0 757.3,897.3 759.2,905.0 760.0,900.0 761.2,910.9 763.0,916.0 763.1,916.6 765.1,924.4 766.0,928.0 767.0,924.2 768.9,925.2 770.0,920.0 770.9,920.1 772.8,928.8 774.0,936.0 774.8,937.4 776.7,938.4 778.6,934.1 779.0,940.0 780.6,944.6 782.5,949.1 782.5,1115.6 780.6,1115.7 778.6,1114.3 776.7,1113.4 775.0,1112.5 774.8,1110.2 772.8,1111.3 770.9,1108.1 768.9,1110.3 767.0,1108.7 765.1,1111.1 763.1,1106.5 762.5,1107.5 761.2,1105.0 759.2,1104.6 757.3,1106.3 755.4,1104.6 753.4,1101.0 751.5,1102.3 750.0,1102.5 749.6,1101.4 747.6,1099.4 745.7,1098.2 743.8,1096.3 741.8,1095.5 740.0,1092.5 739.9,1091.7 737.9,1088.0 736.0,1088.4 734.1,1085.6 732.1,1084.5 730.2,1083.7" fill="#1f77b4" fill-opacity="0.1" stroke="#1f77b4" stroke-opacity="0.1" stroke-width="1.39" stroke-linejoin="round"/>
<polygon points="730.2,900.6 731.0,904.0 732.1,903.3 734.1,900.4 736.0,901.4 737.9,909.6 739.9,918.7 740.0,920.0 741.8,930.1 743.8,930.1 744.0,934.0 745.7,935.7 747.6,936.0 749.0,936.0 749.6,936.4 751.5,946.2 753.4,952.5 754.0,952.0 755.4,953.5 757.3,961.3 759.2,964.0 760.0,966.0 761.2,969.4 763.1,975.6 765.0,980.0 765.1,978.1 767.0,983.0 768.9,987.9 770.0,988.0 770.9,991.2 772.8,995.2 774.8,999.7 775.0,997.5 776.7,999.4 778.6,1001.7 780.6,1003.1 782.5,1007.2 782.5,1085.2 780.6,1085.9 778.6,1087.2 776.7,1085.7 775.0,1082.5 774.8,1080.8 772.8,1080.8 770.9,1080.1 768.9,1078.1 767.0,1074.8 765.1,1072.3 763.1,1071.8 762.5,1072.5 761.2,1070.1 759.2,1068.8 757.3,1066.8 755.4,1065.5 753.4,1063.2 751.5,1061.0 750.0,1060.0 749.6,1060.4 747.6,1058.7 745.7,1058.0 743.8,1053.3 741.8,1051.0 740.0,1050.0 739.9,1049.6 737.9,1046.6 736.0,1042.8 734.1,1040.7 732.1,1035.8 730.2,1034.2" fill="#1f77b4" fill-opacity="0.1" stroke="#1f77b4" stroke-opacity="0.1" stroke-width="1.39" stroke-linejoin="round"/>
<line x1="69.5" x2="782.5" y1="1145.50" y2="1145.50" stroke="#b0b0b0" stroke-width="1.11"/>
<line x1="69.5" x2="782.5" y1="1064.50" y2="1064.50" stroke="#b0b0b0" stroke-width="1.11"/>
<line x1="69.5" x2="782.5" y1="983.50" y2="983.50" stroke="#b0b0b0" stroke-width="1.11"/>
<line x1="69.5" x2="782.5" y1="902.50" y2="902.50" stroke="#b0b0b0" stroke-width="1.11"/>
<line x1="69.5" x2="782.5" y1="822.50" y2="822.50" stroke="#b0b0b0" stroke-width="1.11"/>
<line x1="69.5" x2="782.5" y1="741.50" y2="741.50" stroke="#b0b0b0" stroke-width="1.11"/>
<line x1="69.5" x2="782.5" y1="660.50" y2="660.50" stroke="#b0b0b0" stroke-width="1.11"/>
<polyline points="69.5,1144.8 71.4,1144.7 73.4,1144.7 75.3,1144.6 77.2,1144.6 79.2,1144.5 81.1,1144.5 83.1,1144.4 85.0,1144.4 86.9,1144.3 88.9,1144.3 90.8,1144.2 92.8,1144.2 94.7,1144.1 96.6,1144.1 98.6,1144.0 100.0,1144.0 100.5,1143.9 102.4,1143.4 104.4,1142.9 106.3,1142.4 108.0,1142.0 108.2,1141.8 110.2,1140.5 112.1,1139.3 114.0,1138.0 114.1,1137.9 116.0,1135.3 117.9,1132.7 119.9,1130.2 120.0,1130.0 121.8,1125.2 123.8,1120.0 125.7,1114.8 127.5,1110.0 127.6,1109.5 129.6,1101.8 131.5,1094.0 132.5,1090.0 133.4,1086.2 135.4,1078.5 137.3,1070.8 137.5,1070.0 139.2,1063.0 141.2,1055.2 142.5,1050.0 143.1,1047.5 145.1,1039.8 147.0,1032.0 147.5,1030.0 148.9,1025.0 150.9,1018.2 152.5,1012.5 152.8,1011.5 154.8,1005.0 156.2,1000.0 156.7,998.7 158.6,992.9 160.0,988.8 160.6,988.5 162.5,987.5 164.4,981.0 166.2,975.0 166.4,975.2 168.3,978.1 168.8,978.8 170.2,976.5 171.2,975.0 172.2,975.9 173.8,977.5 174.1,976.8 176.1,972.9 176.2,972.5 178.0,976.9 178.8,978.8 179.9,975.6 181.9,970.4 182.5,968.8 183.8,972.0 185.0,975.0 185.8,973.5 187.7,969.6 188.8,967.5 189.6,972.7 191.2,982.5 191.6,982.2 193.5,980.2 193.8,980.0 195.4,984.5 197.4,989.7 197.5,990.0 199.3,993.6 201.2,997.5 203.2,1001.4 205.0,1005.0 205.1,1004.8 207.1,1000.9 207.5,1000.0 209.0,1007.5 210.0,1012.5 210.9,1014.4 212.9,1018.3 214.8,1022.1 215.0,1022.5 216.8,1026.9 218.7,1031.7 220.0,1035.0 220.6,1033.8 222.5,1030.0 222.6,1030.2 224.5,1038.0 225.0,1040.0 226.4,1042.2 228.4,1045.1 230.0,1047.5 230.3,1048.1 232.2,1052.0 234.2,1055.9 235.0,1057.5 236.1,1055.8 237.5,1053.8 238.1,1055.0 240.0,1059.4 241.9,1063.7 242.5,1065.0 243.9,1066.9 245.8,1069.6 247.5,1072.0 247.8,1072.3 249.7,1074.4 251.6,1076.5 252.5,1077.5 253.6,1078.9 255.5,1081.5 257.4,1084.1 259.4,1086.7 260.0,1087.5 261.3,1088.8 263.2,1090.8 265.2,1092.7 267.1,1094.6 267.5,1095.0 269.1,1096.4 271.0,1098.1 272.9,1099.8 274.9,1101.5 276.8,1103.1 277.5,1103.8 278.8,1104.5 280.7,1105.7 282.6,1106.8 284.6,1108.0 286.5,1109.2 288.4,1110.3 290.0,1111.2 290.4,1111.4 292.3,1112.2 294.2,1113.0 296.2,1113.7 298.1,1114.5 300.1,1115.3 302.0,1116.0 302.5,1116.2 303.9,1116.5 305.9,1116.9 307.8,1117.3 309.8,1117.7 311.7,1118.1 313.6,1118.5 315.0,1118.8 315.6,1118.8 317.5,1119.0 319.4,1119.2 321.4,1119.4 323.3,1119.6 325.2,1119.8 327.2,1120.0 327.5,1120.0 329.1,1120.2 331.1,1120.4 333.0,1120.5 334.9,1120.7 336.9,1120.9 338.8,1121.1 340.0,1121.2 340.8,1121.3 342.7,1121.4 344.6,1121.5 346.6,1121.6 348.5,1121.7 350.4,1121.8 352.4,1121.9 354.3,1122.0 356.2,1122.1 358.2,1122.2 360.1,1122.3 362.1,1122.4 364.0,1122.5 365.0,1122.5 365.9,1122.5 367.9,1122.6 369.8,1122.7 371.8,1122.8 373.7,1122.9 375.6,1123.0 377.6,1123.1 379.5,1123.2 381.4,1123.3 383.4,1123.4 385.3,1123.5 387.2,1123.6 389.2,1123.7 390.0,1123.8 391.1,1123.8 393.1,1123.8 395.0,1123.8 396.9,1123.8 398.9,1123.8 400.8,1123.8 402.8,1123.8 404.7,1123.8 406.6,1123.8 408.6,1123.8 410.5,1123.8 412.4,1123.8 414.4,1123.8 415.0,1123.8 416.3,1123.8 418.2,1123.8 420.0,1123.8 420.2,1123.7 422.1,1123.6 424.1,1123.5 426.0,1123.5 427.9,1123.4 429.9,1123.3 431.8,1123.2 433.8,1123.1 435.7,1123.0 437.6,1122.9 439.6,1122.8 441.5,1122.7 443.4,1122.6 445.0,1122.5 445.4,1122.5 447.3,1122.4 449.2,1122.3 451.2,1122.2 453.1,1122.1 455.1,1122.0 457.0,1121.9 458.9,1121.8 460.9,1121.7 462.8,1121.6 464.8,1121.5 466.7,1121.4 468.6,1121.3 470.0,1121.2 470.6,1121.2 472.5,1120.9 474.4,1120.7 476.4,1120.5 478.3,1120.2 480.2,1120.0 482.2,1119.7 484.1,1119.5 486.1,1119.2 488.0,1119.0 489.9,1118.8 490.0,1118.8 491.9,1118.3 493.8,1117.8 495.8,1117.3 497.7,1116.8 499.6,1116.3 501.6,1115.9 503.5,1115.4 505.0,1115.0 505.4,1114.9 507.4,1114.4 509.3,1113.9 511.2,1113.4 513.2,1113.0 515.1,1112.5 517.1,1112.0 519.0,1111.5 520.0,1111.2 520.9,1111.2 522.9,1111.2 524.8,1111.2 525.0,1111.2 526.8,1110.4 528.7,1109.4 530.6,1108.4 532.5,1107.5 532.6,1107.5 534.5,1105.9 536.4,1104.3 538.4,1102.8 540.3,1101.3 542.2,1099.7 544.2,1098.1 545.0,1097.5 546.1,1096.1 548.1,1093.7 550.0,1091.2 551.9,1088.8 553.9,1086.4 555.0,1085.0 555.8,1083.4 557.8,1079.5 559.7,1075.6 561.6,1071.8 562.5,1070.0 563.6,1067.9 565.5,1064.0 567.4,1060.1 569.4,1056.2 570.0,1055.0 571.3,1051.9 573.2,1047.4 575.2,1042.9 577.1,1038.4 577.5,1037.5 579.1,1032.8 581.0,1027.0 582.9,1021.2 584.9,1015.4 585.0,1015.0 586.8,1010.2 588.8,1005.0 590.7,999.8 592.5,995.0 592.6,994.6 594.6,988.1 596.5,981.7 597.0,980.0 598.4,975.2 600.0,970.0 600.4,968.7 602.3,962.3 603.0,960.0 604.2,961.0 605.5,962.0 606.2,957.6 608.0,946.0 608.1,945.7 610.1,940.9 612.0,936.0 613.9,928.2 615.0,924.0 615.9,921.7 617.8,916.5 618.0,916.0 619.8,905.5 620.0,904.0 621.7,900.1 623.0,897.0 623.6,897.1 625.6,897.5 627.5,897.9 628.0,898.0 629.4,894.2 631.0,890.0 631.4,889.0 633.3,884.2 635.0,880.0 635.2,881.3 636.5,888.0 637.2,886.2 638.0,884.0 639.1,887.4 640.0,890.0 641.1,883.6 642.0,878.0 643.0,878.3 644.9,879.0 645.0,879.0 646.9,877.1 648.0,876.0 648.8,872.8 650.0,868.0 650.8,872.0 652.7,882.3 653.0,884.0 654.6,887.2 656.0,890.0 656.6,887.2 658.0,880.0 658.5,881.8 660.4,888.9 661.0,891.0 662.4,883.4 663.0,880.0 664.3,884.4 666.0,890.0 666.2,889.7 668.2,887.1 669.0,886.0 670.1,889.0 672.0,894.0 672.1,893.7 674.0,884.7 675.0,880.0 675.9,880.6 677.9,881.9 678.0,882.0 679.8,891.0 680.0,892.0 681.8,899.0 683.0,904.0 683.7,902.6 685.6,898.8 687.6,894.9 688.0,894.0 689.5,902.0 691.0,910.0 691.4,909.4 693.4,906.8 694.0,906.0 695.3,913.9 696.0,918.0 697.2,915.5 699.0,912.0 699.2,913.1 701.1,924.7 702.0,930.0 703.1,927.9 704.0,926.0 705.0,929.3 706.9,935.8 707.0,936.0 708.9,934.7 710.0,934.0 710.8,938.9 712.0,946.0 712.8,940.8 714.0,932.0 714.7,935.7 716.6,946.0 717.0,948.0 718.6,952.2 720.0,956.0 720.5,957.5 722.0,962.0 722.4,961.6 724.0,960.0 724.4,961.9 726.0,970.0 726.3,970.2 728.2,971.5 729.0,972.0" fill="none" stroke="#1f77b4" stroke-width="2.08" stroke-linejoin="round"/>
<polyline points="730.2,976.8 731.0,980.0 732.1,983.7 732.5,985.0 734.1,987.1 736.0,989.7 737.9,992.3 739.9,994.8 740.0,995.0 741.8,997.7 743.8,1000.6 745.0,1002.5 745.7,1003.2 747.6,1005.1 749.6,1007.1 750.0,1007.5 751.5,1012.0 752.5,1015.0 753.4,1016.9 755.4,1020.8 757.3,1024.6 757.5,1025.0 758.8,1032.5 759.2,1030.5 760.0,1027.5 761.2,1029.9 763.1,1033.7 765.0,1037.5 765.1,1037.6 767.0,1040.5 768.9,1043.4 770.0,1045.0 770.9,1045.7 772.8,1047.1 774.8,1048.6 775.0,1048.8 776.7,1050.9 778.6,1053.3 780.0,1055.0 780.6,1055.7 782.5,1058.0" fill="none" stroke="#1f77b4" stroke-width="2.08" stroke-linejoin="round"/>
<g fill="#ff7f0e">
<circle cx="69.5" cy="1145.2" r="4.85"/>
<circle cx="73.4" cy="1145.2" r="4.85"/>
<circle cx="77.2" cy="1145.2" r="4.85"/>
<circle cx="81.1" cy="1145.2" r="4.85"/>
<circle cx="85.0" cy="1145.2" r="4.85"/>
<circle cx="88.9" cy="1145.2" r="4.85"/>
<circle cx="92.8" cy="1145.2" r="4.85"/>
<circle cx="96.6" cy="1145.2" r="4.85"/>
<circle cx="177.5" cy="634.5" r="4.85"/>
<circle cx="189.2" cy="635.5" r="4.85"/>
<circle cx="162.5" cy="734.2" r="4.85"/>
<circle cx="158.2" cy="758.2" r="4.85"/>
<circle cx="193.5" cy="757.2" r="4.85"/>
<circle cx="206.2" cy="852.5" r="4.85"/>
<circle cx="204.2" cy="860.5" r="4.85"/>
<circle cx="181.2" cy="878.2" r="4.85"/>
<circle cx="175.0" cy="883.0" r="4.85"/>
<circle cx="191.2" cy="885.2" r="4.85"/>
<circle cx="222.5" cy="912.0" r="4.85"/>
<circle cx="218.0" cy="917.0" r="4.85"/>
<circle cx="208.5" cy="930.2" r="4.85"/>
<circle cx="187.5" cy="940.2" r="4.85"/>
<circle cx="195.2" cy="948.2" r="4.85"/>
<circle cx="156.5" cy="949.2" r="4.85"/>
<circle cx="216.2" cy="957.2" r="4.85"/>
<circle cx="148.2" cy="974.0" r="4.85"/>
<circle cx="220.0" cy="982.4" r="4.85"/>
<circle cx="224.4" cy="983.6" r="4.85"/>
<circle cx="233.6" cy="983.0" r="4.85"/>
<circle cx="243.4" cy="985.4" r="4.85"/>
<circle cx="232.4" cy="990.4" r="4.85"/>
<circle cx="179.5" cy="988.2" r="4.85"/>
<circle cx="150.5" cy="1004.5" r="4.85"/>
<circle cx="142.5" cy="1011.5" r="4.85"/>
<circle cx="154.2" cy="1011.5" r="4.85"/>
<circle cx="173.2" cy="1014.2" r="4.85"/>
<circle cx="202.5" cy="1014.0" r="4.85"/>
<circle cx="235.5" cy="1004.5" r="4.85"/>
<circle cx="247.5" cy="1011.5" r="4.85"/>
<circle cx="140.5" cy="1022.2" r="4.85"/>
<circle cx="160.5" cy="1021.0" r="4.85"/>
<circle cx="152.2" cy="1025.5" r="4.85"/>
<circle cx="137.8" cy="1029.2" r="4.85"/>
<circle cx="135.5" cy="1037.2" r="4.85"/>
<circle cx="237.2" cy="1027.2" r="4.85"/>
<circle cx="245.2" cy="1027.2" r="4.85"/>
<circle cx="164.5" cy="1042.0" r="4.85"/>
<circle cx="249.2" cy="1040.5" r="4.85"/>
<circle cx="210.2" cy="1046.2" r="4.85"/>
<circle cx="183.2" cy="1050.2" r="4.85"/>
<circle cx="197.2" cy="1050.2" r="4.85"/>
<circle cx="166.5" cy="1054.2" r="4.85"/>
<circle cx="144.5" cy="1056.2" r="4.85"/>
<circle cx="170.5" cy="1059.2" r="4.85"/>
<circle cx="257.5" cy="1055.0" r="4.85"/>
<circle cx="260.0" cy="1062.0" r="4.85"/>
<circle cx="129.5" cy="1084.0" r="4.85"/>
<circle cx="146.2" cy="1084.0" r="4.85"/>
<circle cx="138.2" cy="1092.5" r="4.85"/>
<circle cx="133.2" cy="1098.0" r="4.85"/>
<circle cx="199.2" cy="1087.0" r="4.85"/>
<circle cx="185.2" cy="1093.0" r="4.85"/>
<circle cx="171.5" cy="1100.5" r="4.85"/>
<circle cx="201.5" cy="1100.2" r="4.85"/>
<circle cx="251.2" cy="1092.2" r="4.85"/>
<circle cx="226.5" cy="1105.0" r="4.85"/>
<circle cx="168.2" cy="1111.0" r="4.85"/>
<circle cx="212.2" cy="1116.2" r="4.85"/>
<circle cx="214.2" cy="1121.2" r="4.85"/>
<circle cx="230.5" cy="1116.2" r="4.85"/>
<circle cx="228.8" cy="1121.2" r="4.85"/>
<circle cx="239.2" cy="1114.2" r="4.85"/>
<circle cx="241.2" cy="1122.0" r="4.85"/>
<circle cx="252.5" cy="1123.8" r="4.85"/>
<circle cx="256.2" cy="1126.2" r="4.85"/>
<circle cx="125.5" cy="1118.0" r="4.85"/>
<circle cx="131.2" cy="1121.2" r="4.85"/>
<circle cx="127.5" cy="1123.8" r="4.85"/>
<circle cx="122.5" cy="1125.0" r="4.85"/>
<circle cx="115.5" cy="1126.2" r="4.85"/>
<circle cx="120.0" cy="1130.0" r="4.85"/>
<circle cx="109.2" cy="1133.8" r="4.85"/>
<circle cx="116.2" cy="1135.0" r="4.85"/>
<circle cx="112.5" cy="1138.8" r="4.85"/>
<circle cx="107.0" cy="1139.0" r="4.85"/>
<circle cx="102.5" cy="1141.2" r="4.85"/>
<circle cx="98.5" cy="1142.5" r="4.85"/>
<circle cx="265.0" cy="1062.5" r="4.85"/>
<circle cx="263.8" cy="1067.5" r="4.85"/>
<circle cx="286.2" cy="1059.2" r="4.85"/>
<circle cx="272.5" cy="1076.2" r="4.85"/>
<circle cx="275.0" cy="1080.0" r="4.85"/>
<circle cx="276.8" cy="1085.0" r="4.85"/>
<circle cx="285.0" cy="1082.5" r="4.85"/>
<circle cx="288.8" cy="1082.5" r="4.85"/>
<circle cx="297.5" cy="1084.2" r="4.85"/>
<circle cx="315.0" cy="1087.5" r="4.85"/>
<circle cx="300.0" cy="1091.8" r="4.85"/>
<circle cx="303.8" cy="1092.5" r="4.85"/>
<circle cx="312.5" cy="1092.5" r="4.85"/>
<circle cx="317.5" cy="1095.5" r="4.85"/>
<circle cx="270.5" cy="1095.5" r="4.85"/>
<circle cx="268.2" cy="1100.5" r="4.85"/>
<circle cx="292.5" cy="1105.8" r="4.85"/>
<circle cx="301.2" cy="1105.0" r="4.85"/>
<circle cx="290.0" cy="1111.2" r="4.85"/>
<circle cx="278.2" cy="1114.2" r="4.85"/>
<circle cx="313.2" cy="1108.2" r="4.85"/>
<circle cx="266.2" cy="1134.2" r="4.85"/>
<circle cx="280.0" cy="1137.5" r="4.85"/>
<circle cx="282.5" cy="1139.5" r="4.85"/>
<circle cx="295.0" cy="1131.2" r="4.85"/>
<circle cx="293.8" cy="1139.2" r="4.85"/>
<circle cx="305.5" cy="1139.2" r="4.85"/>
<circle cx="308.8" cy="1140.5" r="4.85"/>
<circle cx="328.8" cy="1103.0" r="4.85"/>
<circle cx="326.2" cy="1107.5" r="4.85"/>
<circle cx="330.0" cy="1111.2" r="4.85"/>
<circle cx="319.5" cy="1117.0" r="4.85"/>
<circle cx="323.8" cy="1112.5" r="4.85"/>
<circle cx="340.0" cy="1103.0" r="4.85"/>
<circle cx="337.5" cy="1111.2" r="4.85"/>
<circle cx="343.8" cy="1110.0" r="4.85"/>
<circle cx="341.2" cy="1117.0" r="4.85"/>
<circle cx="342.5" cy="1120.0" r="4.85"/>
<circle cx="352.5" cy="1105.8" r="4.85"/>
<circle cx="356.8" cy="1108.2" r="4.85"/>
<circle cx="365.0" cy="1105.8" r="4.85"/>
<circle cx="369.2" cy="1098.0" r="4.85"/>
<circle cx="379.2" cy="1098.0" r="4.85"/>
<circle cx="381.8" cy="1087.5" r="4.85"/>
<circle cx="385.5" cy="1082.5" r="4.85"/>
<circle cx="394.2" cy="1092.0" r="4.85"/>
<circle cx="392.5" cy="1109.5" r="4.85"/>
<circle cx="408.0" cy="1098.0" r="4.85"/>
<circle cx="406.2" cy="1106.2" r="4.85"/>
<circle cx="421.2" cy="1103.0" r="4.85"/>
<circle cx="431.2" cy="1111.2" r="4.85"/>
<circle cx="438.8" cy="1108.8" r="4.85"/>
<circle cx="332.5" cy="1125.5" r="4.85"/>
<circle cx="323.8" cy="1129.2" r="4.85"/>
<circle cx="321.2" cy="1133.2" r="4.85"/>
<circle cx="334.5" cy="1131.2" r="4.85"/>
<circle cx="336.2" cy="1139.5" r="4.85"/>
<circle cx="346.2" cy="1131.2" r="4.85"/>
<circle cx="350.0" cy="1137.5" r="4.85"/>
<circle cx="348.0" cy="1140.5" r="4.85"/>
<circle cx="354.5" cy="1122.5" r="4.85"/>
<circle cx="357.5" cy="1126.2" r="4.85"/>
<circle cx="361.8" cy="1138.8" r="4.85"/>
<circle cx="367.5" cy="1133.8" r="4.85"/>
<circle cx="365.0" cy="1141.2" r="4.85"/>
<circle cx="370.0" cy="1122.5" r="4.85"/>
<circle cx="373.8" cy="1122.5" r="4.85"/>
<circle cx="376.2" cy="1140.0" r="4.85"/>
<circle cx="383.0" cy="1118.8" r="4.85"/>
<circle cx="387.5" cy="1118.0" r="4.85"/>
<circle cx="388.8" cy="1139.5" r="4.85"/>
<circle cx="396.2" cy="1123.8" r="4.85"/>
<circle cx="398.0" cy="1118.8" r="4.85"/>
<circle cx="400.8" cy="1116.2" r="4.85"/>
<circle cx="402.5" cy="1142.0" r="4.85"/>
<circle cx="410.0" cy="1132.0" r="4.85"/>
<circle cx="412.5" cy="1112.5" r="4.85"/>
<circle cx="415.0" cy="1122.5" r="4.85"/>
<circle cx="416.2" cy="1141.2" r="4.85"/>
<circle cx="420.0" cy="1113.8" r="4.85"/>
<circle cx="423.8" cy="1115.0" r="4.85"/>
<circle cx="426.2" cy="1121.2" r="4.85"/>
<circle cx="425.0" cy="1130.0" r="4.85"/>
<circle cx="428.8" cy="1143.8" r="4.85"/>
<circle cx="433.8" cy="1122.5" r="4.85"/>
<circle cx="432.5" cy="1132.5" r="4.85"/>
<circle cx="437.5" cy="1120.0" r="4.85"/>
<circle cx="440.0" cy="1125.0" r="4.85"/>
<circle cx="438.8" cy="1143.8" r="4.85"/>
<circle cx="572.5" cy="965.0" r="4.85"/>
<circle cx="575.0" cy="971.2" r="4.85"/>
<circle cx="586.2" cy="975.0" r="4.85"/>
<circle cx="576.2" cy="983.2" r="4.85"/>
<circle cx="582.5" cy="1016.2" r="4.85"/>
<circle cx="555.2" cy="1029.2" r="4.85"/>
<circle cx="592.5" cy="1038.2" r="4.85"/>
<circle cx="606.2" cy="1032.5" r="4.85"/>
<circle cx="607.5" cy="1040.0" r="4.85"/>
<circle cx="620.0" cy="1038.2" r="4.85"/>
<circle cx="557.2" cy="1053.2" r="4.85"/>
<circle cx="559.2" cy="1066.0" r="4.85"/>
<circle cx="545.5" cy="1072.2" r="4.85"/>
<circle cx="563.2" cy="1075.8" r="4.85"/>
<circle cx="578.5" cy="1076.2" r="4.85"/>
<circle cx="590.5" cy="1076.2" r="4.85"/>
<circle cx="594.5" cy="1083.8" r="4.85"/>
<circle cx="565.5" cy="1082.5" r="4.85"/>
<circle cx="569.5" cy="1090.0" r="4.85"/>
<circle cx="514.2" cy="1079.2" r="4.85"/>
<circle cx="547.5" cy="1082.5" r="4.85"/>
<circle cx="544.2" cy="1084.2" r="4.85"/>
<circle cx="550.0" cy="1085.8" r="4.85"/>
<circle cx="532.5" cy="1087.5" r="4.85"/>
<circle cx="462.5" cy="1088.2" r="4.85"/>
<circle cx="495.5" cy="1092.0" r="4.85"/>
<circle cx="520.5" cy="1093.2" r="4.85"/>
<circle cx="503.2" cy="1098.0" r="4.85"/>
<circle cx="542.5" cy="1097.0" r="4.85"/>
<circle cx="534.2" cy="1098.0" r="4.85"/>
<circle cx="516.2" cy="1100.0" r="4.85"/>
<circle cx="522.5" cy="1100.5" r="4.85"/>
<circle cx="476.2" cy="1101.2" r="4.85"/>
<circle cx="561.2" cy="1100.0" r="4.85"/>
<circle cx="567.5" cy="1105.0" r="4.85"/>
<circle cx="580.5" cy="1100.0" r="4.85"/>
<circle cx="588.8" cy="1105.0" r="4.85"/>
<circle cx="536.8" cy="1103.8" r="4.85"/>
<circle cx="528.0" cy="1105.0" r="4.85"/>
<circle cx="530.0" cy="1108.8" r="4.85"/>
<circle cx="445.0" cy="1101.2" r="4.85"/>
<circle cx="451.2" cy="1103.2" r="4.85"/>
<circle cx="457.5" cy="1106.2" r="4.85"/>
<circle cx="450.0" cy="1109.2" r="4.85"/>
<circle cx="458.8" cy="1111.2" r="4.85"/>
<circle cx="460.0" cy="1117.0" r="4.85"/>
<circle cx="468.8" cy="1116.2" r="4.85"/>
<circle cx="464.5" cy="1120.0" r="4.85"/>
<circle cx="480.5" cy="1114.2" r="4.85"/>
<circle cx="488.8" cy="1108.2" r="4.85"/>
<circle cx="492.5" cy="1111.2" r="4.85"/>
<circle cx="495.8" cy="1115.0" r="4.85"/>
<circle cx="500.0" cy="1117.5" r="4.85"/>
<circle cx="506.2" cy="1109.2" r="4.85"/>
<circle cx="511.2" cy="1109.2" r="4.85"/>
<circle cx="501.2" cy="1122.5" r="4.85"/>
<circle cx="486.2" cy="1118.8" r="4.85"/>
<circle cx="480.0" cy="1120.0" r="4.85"/>
<circle cx="483.8" cy="1123.8" r="4.85"/>
<circle cx="475.0" cy="1123.8" r="4.85"/>
<circle cx="472.5" cy="1126.2" r="4.85"/>
<circle cx="466.2" cy="1127.5" r="4.85"/>
<circle cx="451.2" cy="1127.0" r="4.85"/>
<circle cx="433.8" cy="1126.2" r="4.85"/>
<circle cx="447.5" cy="1135.0" r="4.85"/>
<circle cx="443.8" cy="1143.8" r="4.85"/>
<circle cx="470.0" cy="1139.2" r="4.85"/>
<circle cx="472.5" cy="1141.2" r="4.85"/>
<circle cx="497.5" cy="1135.0" r="4.85"/>
<circle cx="508.8" cy="1131.2" r="4.85"/>
<circle cx="513.8" cy="1129.5" r="4.85"/>
<circle cx="523.8" cy="1127.0" r="4.85"/>
<circle cx="527.5" cy="1125.5" r="4.85"/>
<circle cx="540.5" cy="1129.2" r="4.85"/>
<circle cx="538.2" cy="1140.0" r="4.85"/>
<circle cx="550.5" cy="1138.8" r="4.85"/>
<circle cx="553.8" cy="1140.0" r="4.85"/>
<circle cx="619.4" cy="943.4" r="4.85"/>
<circle cx="646.4" cy="954.4" r="4.85"/>
<circle cx="687.4" cy="962.4" r="4.85"/>
<circle cx="571.4" cy="956.4" r="4.85"/>
<circle cx="662.4" cy="982.4" r="4.85"/>
<circle cx="673.4" cy="993.4" r="4.85"/>
<circle cx="633.4" cy="1001.4" r="4.85"/>
<circle cx="648.4" cy="999.4" r="4.85"/>
<circle cx="675.4" cy="1003.4" r="4.85"/>
<circle cx="691.4" cy="1011.4" r="4.85"/>
<circle cx="701.4" cy="1017.4" r="4.85"/>
<circle cx="689.4" cy="1024.4" r="4.85"/>
<circle cx="635.4" cy="1051.4" r="4.85"/>
<circle cx="660.4" cy="1051.4" r="4.85"/>
<circle cx="702.4" cy="1045.4" r="4.85"/>
<circle cx="714.4" cy="1051.4" r="4.85"/>
<circle cx="716.4" cy="1082.4" r="4.85"/>
<circle cx="658.4" cy="1100.4" r="4.85"/>
<circle cx="644.4" cy="1106.4" r="4.85"/>
<circle cx="735.0" cy="962.0" r="4.85"/>
<circle cx="737.5" cy="977.5" r="4.85"/>
<circle cx="739.2" cy="991.2" r="4.85"/>
<circle cx="749.2" cy="987.0" r="4.85"/>
<circle cx="759.5" cy="988.2" r="4.85"/>
<circle cx="751.2" cy="1022.5" r="4.85"/>
<circle cx="754.2" cy="1024.2" r="4.85"/>
<circle cx="761.2" cy="1019.2" r="4.85"/>
<circle cx="763.8" cy="1017.0" r="4.85"/>
<circle cx="768.0" cy="1027.0" r="4.85"/>
<circle cx="772.5" cy="1022.0" r="4.85"/>
<circle cx="776.8" cy="1019.2" r="4.85"/>
<circle cx="774.2" cy="1040.5" r="4.85"/>
<circle cx="728.2" cy="1042.2" r="4.85"/>
<circle cx="764.2" cy="1051.2" r="4.85"/>
<circle cx="780.0" cy="1059.2" r="4.85"/>
<circle cx="778.0" cy="1074.2" r="4.85"/>
<circle cx="730.2" cy="1098.0" r="4.85"/>
<circle cx="781.2" cy="1098.0" r="4.85"/>
<circle cx="741.2" cy="1104.5" r="4.85"/>
<circle cx="755.5" cy="1101.2" r="4.85"/>
<circle cx="743.2" cy="1111.2" r="4.85"/>
<circle cx="745.2" cy="1121.2" r="4.85"/>
<circle cx="757.2" cy="1119.0" r="4.85"/>
<circle cx="770.2" cy="1119.0" r="4.85"/>
<circle cx="766.2" cy="1143.2" r="4.85"/>
<circle cx="625.4" cy="631.4" r="4.85"/>
<circle cx="637.4" cy="631.4" r="4.85"/>
<circle cx="652.4" cy="627.4" r="4.85"/>
<circle cx="680.0" cy="660.4" r="4.85"/>
<circle cx="650.0" cy="679.4" r="4.85"/>
<circle cx="654.4" cy="679.4" r="4.85"/>
<circle cx="668.4" cy="721.4" r="4.85"/>
<circle cx="639.4" cy="729.0" r="4.85"/>
<circle cx="640.4" cy="733.4" r="4.85"/>
<circle cx="671.4" cy="737.4" r="4.85"/>
<circle cx="623.4" cy="745.4" r="4.85"/>
<circle cx="677.0" cy="749.4" r="4.85"/>
<circle cx="613.4" cy="765.4" r="4.85"/>
<circle cx="629.4" cy="790.0" r="4.85"/>
<circle cx="695.4" cy="733.4" r="4.85"/>
<circle cx="683.4" cy="781.0" r="4.85"/>
<circle cx="704.4" cy="778.4" r="4.85"/>
<circle cx="627.0" cy="796.4" r="4.85"/>
<circle cx="615.4" cy="799.4" r="4.85"/>
<circle cx="631.4" cy="804.4" r="4.85"/>
<circle cx="656.4" cy="797.4" r="4.85"/>
<circle cx="670.4" cy="810.4" r="4.85"/>
<circle cx="609.4" cy="817.4" r="4.85"/>
<circle cx="611.0" cy="825.4" r="4.85"/>
<circle cx="617.4" cy="831.4" r="4.85"/>
<circle cx="664.4" cy="823.4" r="4.85"/>
<circle cx="600.4" cy="849.4" r="4.85"/>
<circle cx="598.4" cy="864.0" r="4.85"/>
<circle cx="596.4" cy="867.4" r="4.85"/>
<circle cx="584.4" cy="915.4" r="4.85"/>
<circle cx="604.4" cy="915.4" r="4.85"/>
<circle cx="642.4" cy="927.4" r="4.85"/>
<circle cx="576.4" cy="980.0" r="4.85"/>
<circle cx="685.4" cy="799.4" r="4.85"/>
<circle cx="706.4" cy="796.4" r="4.85"/>
<circle cx="697.4" cy="815.4" r="4.85"/>
<circle cx="708.4" cy="838.4" r="4.85"/>
<circle cx="699.4" cy="843.4" r="4.85"/>
<circle cx="747.4" cy="846.4" r="4.85"/>
<circle cx="710.4" cy="872.4" r="4.85"/>
<circle cx="724.4" cy="886.4" r="4.85"/>
<circle cx="726.4" cy="910.4" r="4.85"/>
<circle cx="732.4" cy="915.4" r="4.85"/>
<circle cx="720.4" cy="917.4" r="4.85"/>
<circle cx="722.4" cy="935.4" r="4.85"/>
<circle cx="712.4" cy="938.4" r="4.85"/>
<circle cx="718.4" cy="943.4" r="4.85"/>
<circle cx="733.4" cy="941.4" r="4.85"/>
</g>
<line x1="728.25" x2="728.25" y1="1145.5" y2="592.5" stroke="#1f77b4" stroke-opacity="0.5" stroke-width="2.08" stroke-dasharray="7.7,3.33"/>
</g>
<rect x="69.5" y="592.5" width="713.0" height="553.0" fill="none" stroke="#000" stroke-width="1.11"/>
<line x1="64.64" x2="69.5" y1="1145.50" y2="1145.50" stroke="#000" stroke-width="1.11"/>
<text x="58.50" y="1150" font-size="13.89" text-anchor="end" letter-spacing="-0.3">0</text>
<line x1="64.64" x2="69.5" y1="1064.50" y2="1064.50" stroke="#000" stroke-width="1.11"/>
<text x="58.50" y="1069" font-size="13.89" text-anchor="end" letter-spacing="-0.3">50</text>
<line x1="64.64" x2="69.5" y1="983.50" y2="983.50" stroke="#000" stroke-width="1.11"/>
<text x="58.50" y="989" font-size="13.89" text-anchor="end" letter-spacing="-0.3">100</text>
<line x1="64.64" x2="69.5" y1="902.50" y2="902.50" stroke="#000" stroke-width="1.11"/>
<text x="58.50" y="908" font-size="13.89" text-anchor="end" letter-spacing="-0.3">150</text>
<line x1="64.64" x2="69.5" y1="822.50" y2="822.50" stroke="#000" stroke-width="1.11"/>
<text x="58.50" y="827" font-size="13.89" text-anchor="end" letter-spacing="-0.3">200</text>
<line x1="64.64" x2="69.5" y1="741.50" y2="741.50" stroke="#000" stroke-width="1.11"/>
<text x="58.50" y="746" font-size="13.89" text-anchor="end" letter-spacing="-0.3">250</text>
<line x1="64.64" x2="69.5" y1="660.50" y2="660.50" stroke="#000" stroke-width="1.11"/>
<text x="58.50" y="665" font-size="13.89" text-anchor="end" letter-spacing="-0.3">300</text>
<line x1="123.50" x2="123.50" y1="1145.5" y2="1150.36" stroke="#000" stroke-width="1.11"/>
<text x="123.35" y="1165.70" font-size="13.89" text-anchor="middle">Apr</text>
<line x1="181.50" x2="181.50" y1="1145.5" y2="1150.36" stroke="#000" stroke-width="1.11"/>
<text x="181.47" y="1165.70" font-size="13.89" text-anchor="middle">May</text>
<line x1="241.50" x2="241.50" y1="1145.5" y2="1150.36" stroke="#000" stroke-width="1.11"/>
<text x="241.54" y="1165.70" font-size="13.89" text-anchor="middle">Jun</text>
<line x1="300.50" x2="300.50" y1="1145.5" y2="1150.36" stroke="#000" stroke-width="1.11"/>
<text x="299.66" y="1165.70" font-size="13.89" text-anchor="middle">Jul</text>
<line x1="360.50" x2="360.50" y1="1145.5" y2="1150.36" stroke="#000" stroke-width="1.11"/>
<text x="359.73" y="1165.70" font-size="13.89" text-anchor="middle">Aug</text>
<line x1="420.50" x2="420.50" y1="1145.5" y2="1150.36" stroke="#000" stroke-width="1.11"/>
<text x="419.79" y="1165.70" font-size="13.89" text-anchor="middle">Sep</text>
<line x1="478.50" x2="478.50" y1="1145.5" y2="1150.36" stroke="#000" stroke-width="1.11"/>
<text x="477.91" y="1165.70" font-size="13.89" text-anchor="middle">Oct</text>
<line x1="538.50" x2="538.50" y1="1145.5" y2="1150.36" stroke="#000" stroke-width="1.11"/>
<text x="537.98" y="1165.70" font-size="13.89" text-anchor="middle">Nov</text>
<line x1="596.50" x2="596.50" y1="1145.5" y2="1150.36" stroke="#000" stroke-width="1.11"/>
<text x="596.10" y="1165.70" font-size="13.89" text-anchor="middle">Dec</text>
<line x1="656.50" x2="656.50" y1="1145.5" y2="1150.36" stroke="#000" stroke-width="1.11"/>
<text x="656.16" y="1165.70" font-size="13.89" text-anchor="middle">Jan</text>
<text x="655.76" y="1182.00" font-size="13.89" text-anchor="middle">2021</text>
<line x1="716.50" x2="716.50" y1="1145.5" y2="1150.36" stroke="#000" stroke-width="1.11"/>
<text x="716.23" y="1165.70" font-size="13.89" text-anchor="middle">Feb</text>
<line x1="770.50" x2="770.50" y1="1145.5" y2="1150.36" stroke="#000" stroke-width="1.11"/>
<text x="769.88" y="1165.70" font-size="13.89" text-anchor="middle">Mar</text>
<line x1="69.50" x2="69.50" y1="1145.5" y2="1150.36" stroke="#000" stroke-width="1.11"/>
<line x1="782.50" x2="782.50" y1="1145.5" y2="1150.36" stroke="#000" stroke-width="1.11"/>
<line x1="78.50" x2="78.50" y1="1145.5" y2="1148.50" stroke="#000" stroke-width="0.9"/>
<line x1="92.50" x2="92.50" y1="1145.5" y2="1148.50" stroke="#000" stroke-width="0.9"/>
<line x1="106.50" x2="106.50" y1="1145.5" y2="1148.50" stroke="#000" stroke-width="0.9"/>
<line x1="119.50" x2="119.50" y1="1145.5" y2="1148.50" stroke="#000" stroke-width="0.9"/>
<line x1="133.50" x2="133.50" y1="1145.5" y2="1148.50" stroke="#000" stroke-width="0.9"/>
<line x1="146.50" x2="146.50" y1="1145.5" y2="1148.50" stroke="#000" stroke-width="0.9"/>
<line x1="160.50" x2="160.50" y1="1145.5" y2="1148.50" stroke="#000" stroke-width="0.9"/>
<line x1="173.50" x2="173.50" y1="1145.5" y2="1148.50" stroke="#000" stroke-width="0.9"/>
<line x1="187.50" x2="187.50" y1="1145.5" y2="1148.50" stroke="#000" stroke-width="0.9"/>
<line x1="201.50" x2="201.50" y1="1145.5" y2="1148.50" stroke="#000" stroke-width="0.9"/>
<line x1="214.50" x2="214.50" y1="1145.5" y2="1148.50" stroke="#000" stroke-width="0.9"/>
<line x1="228.50" x2="228.50" y1="1145.5" y2="1148.50" stroke="#000" stroke-width="0.9"/>
<line x1="241.50" x2="241.50" y1="1145.5" y2="1148.50" stroke="#000" stroke-width="0.9"/>
<line x1="255.50" x2="255.50" y1="1145.5" y2="1148.50" stroke="#000" stroke-width="0.9"/>
<line x1="268.50" x2="268.50" y1="1145.5" y2="1148.50" stroke="#000" stroke-width="0.9"/>
<line x1="282.50" x2="282.50" y1="1145.5" y2="1148.50" stroke="#000" stroke-width="0.9"/>
<line x1="295.50" x2="295.50" y1="1145.5" y2="1148.50" stroke="#000" stroke-width="0.9"/>
<line x1="309.50" x2="309.50" y1="1145.5" y2="1148.50" stroke="#000" stroke-width="0.9"/>
<line x1="323.50" x2="323.50" y1="1145.5" y2="1148.50" stroke="#000" stroke-width="0.9"/>
<line x1="336.50" x2="336.50" y1="1145.5" y2="1148.50" stroke="#000" stroke-width="0.9"/>
<line x1="350.50" x2="350.50" y1="1145.5" y2="1148.50" stroke="#000" stroke-width="0.9"/>
<line x1="363.50" x2="363.50" y1="1145.5" y2="1148.50" stroke="#000" stroke-width="0.9"/>
<line x1="377.50" x2="377.50" y1="1145.5" y2="1148.50" stroke="#000" stroke-width="0.9"/>
<line x1="390.50" x2="390.50" y1="1145.5" y2="1148.50" stroke="#000" stroke-width="0.9"/>
<line x1="404.50" x2="404.50" y1="1145.5" y2="1148.50" stroke="#000" stroke-width="0.9"/>
<line x1="418.50" x2="418.50" y1="1145.5" y2="1148.50" stroke="#000" stroke-width="0.9"/>
<line x1="431.50" x2="431.50" y1="1145.5" y2="1148.50" stroke="#000" stroke-width="0.9"/>
<line x1="445.50" x2="445.50" y1="1145.5" y2="1148.50" stroke="#000" stroke-width="0.9"/>
<line x1="458.50" x2="458.50" y1="1145.5" y2="1148.50" stroke="#000" stroke-width="0.9"/>
<line x1="472.50" x2="472.50" y1="1145.5" y2="1148.50" stroke="#000" stroke-width="0.9"/>
<line x1="485.50" x2="485.50" y1="1145.5" y2="1148.50" stroke="#000" stroke-width="0.9"/>
<line x1="499.50" x2="499.50" y1="1145.5" y2="1148.50" stroke="#000" stroke-width="0.9"/>
<line x1="512.50" x2="512.50" y1="1145.5" y2="1148.50" stroke="#000" stroke-width="0.9"/>
<line x1="526.50" x2="526.50" y1="1145.5" y2="1148.50" stroke="#000" stroke-width="0.9"/>
<line x1="540.50" x2="540.50" y1="1145.5" y2="1148.50" stroke="#000" stroke-width="0.9"/>
<line x1="553.50" x2="553.50" y1="1145.5" y2="1148.50" stroke="#000" stroke-width="0.9"/>
<line x1="567.50" x2="567.50" y1="1145.5" y2="1148.50" stroke="#000" stroke-width="0.9"/>
<line x1="580.50" x2="580.50" y1="1145.5" y2="1148.50" stroke="#000" stroke-width="0.9"/>
<line x1="594.50" x2="594.50" y1="1145.5" y2="1148.50" stroke="#000" stroke-width="0.9"/>
<line x1="607.50" x2="607.50" y1="1145.5" y2="1148.50" stroke="#000" stroke-width="0.9"/>
<line x1="621.50" x2="621.50" y1="1145.5" y2="1148.50" stroke="#000" stroke-width="0.9"/>
<line x1="635.50" x2="635.50" y1="1145.5" y2="1148.50" stroke="#000" stroke-width="0.9"/>
<line x1="648.50" x2="648.50" y1="1145.5" y2="1148.50" stroke="#000" stroke-width="0.9"/>
<line x1="662.50" x2="662.50" y1="1145.5" y2="1148.50" stroke="#000" stroke-width="0.9"/>
<line x1="675.50" x2="675.50" y1="1145.5" y2="1148.50" stroke="#000" stroke-width="0.9"/>
<line x1="689.50" x2="689.50" y1="1145.5" y2="1148.50" stroke="#000" stroke-width="0.9"/>
<line x1="702.50" x2="702.50" y1="1145.5" y2="1148.50" stroke="#000" stroke-width="0.9"/>
<line x1="716.50" x2="716.50" y1="1145.5" y2="1148.50" stroke="#000" stroke-width="0.9"/>
<line x1="729.50" x2="729.50" y1="1145.5" y2="1148.50" stroke="#000" stroke-width="0.9"/>
<line x1="743.50" x2="743.50" y1="1145.5" y2="1148.50" stroke="#000" stroke-width="0.9"/>
<line x1="757.50" x2="757.50" y1="1145.5" y2="1148.50" stroke="#000" stroke-width="0.9"/>
<line x1="770.50" x2="770.50" y1="1145.5" y2="1148.50" stroke="#000" stroke-width="0.9"/>
<rect x="76.4" y="599.40" width="134.8" height="25" rx="2.8" ry="2.8" fill="#fff" fill-opacity="0.8" stroke="#ccc" stroke-width="1.39"/>
<line x1="80.2" x2="109.8" y1="610.70" y2="610.70" stroke="#1f77b4" stroke-width="2.08"/>
<text x="120.2" y="615.40" font-size="13.89">daily deaths</text>
<text x="397.7" y="36.2" font-size="16.67" text-anchor="middle">Pennsylvania 28 days</text>
</svg></body></html>
